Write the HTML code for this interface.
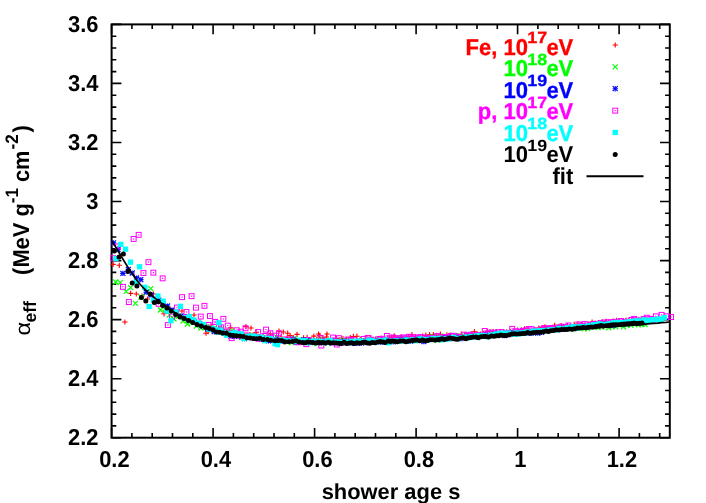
<!DOCTYPE html>
<html><head><meta charset="utf-8"><title>chart</title><style>html,body{margin:0;padding:0;background:#fff;overflow:hidden}svg{display:block;will-change:transform}</style></head><body>
<svg width="706" height="503" viewBox="0 0 706 503">
<rect width="706" height="503" fill="#fff"/>
<rect x="111.6" y="24.4" width="558.2" height="413.3" fill="none" stroke="#000" stroke-width="2"/>
<path d="M111.6 437.7v-9.8M111.6 24.4v9.8M131.9 437.7v-4.7M131.9 24.4v4.7M152.2 437.7v-4.7M152.2 24.4v4.7M172.5 437.7v-4.7M172.5 24.4v4.7M192.8 437.7v-4.7M192.8 24.4v4.7M213.1 437.7v-9.8M213.1 24.4v9.8M233.4 437.7v-4.7M233.4 24.4v4.7M253.7 437.7v-4.7M253.7 24.4v4.7M274.0 437.7v-4.7M274.0 24.4v4.7M294.3 437.7v-4.7M294.3 24.4v4.7M314.6 437.7v-9.8M314.6 24.4v9.8M334.9 437.7v-4.7M334.9 24.4v4.7M355.2 437.7v-4.7M355.2 24.4v4.7M375.5 437.7v-4.7M375.5 24.4v4.7M395.8 437.7v-4.7M395.8 24.4v4.7M416.1 437.7v-9.8M416.1 24.4v9.8M436.4 437.7v-4.7M436.4 24.4v4.7M456.7 437.7v-4.7M456.7 24.4v4.7M477.0 437.7v-4.7M477.0 24.4v4.7M497.3 437.7v-4.7M497.3 24.4v4.7M517.6 437.7v-9.8M517.6 24.4v9.8M537.9 437.7v-4.7M537.9 24.4v4.7M558.2 437.7v-4.7M558.2 24.4v4.7M578.5 437.7v-4.7M578.5 24.4v4.7M598.8 437.7v-4.7M598.8 24.4v4.7M619.1 437.7v-9.8M619.1 24.4v9.8M639.4 437.7v-4.7M639.4 24.4v4.7M659.7 437.7v-4.7M659.7 24.4v4.7M111.6 437.7h9.8M669.8 437.7h-9.8M111.6 425.9h4.7M669.8 425.9h-4.7M111.6 414.1h4.7M669.8 414.1h-4.7M111.6 402.3h4.7M669.8 402.3h-4.7M111.6 390.5h4.7M669.8 390.5h-4.7M111.6 378.7h9.8M669.8 378.7h-9.8M111.6 366.8h4.7M669.8 366.8h-4.7M111.6 355.0h4.7M669.8 355.0h-4.7M111.6 343.2h4.7M669.8 343.2h-4.7M111.6 331.4h4.7M669.8 331.4h-4.7M111.6 319.6h9.8M669.8 319.6h-9.8M111.6 307.8h4.7M669.8 307.8h-4.7M111.6 296.0h4.7M669.8 296.0h-4.7M111.6 284.2h4.7M669.8 284.2h-4.7M111.6 272.4h4.7M669.8 272.4h-4.7M111.6 260.6h9.8M669.8 260.6h-9.8M111.6 248.8h4.7M669.8 248.8h-4.7M111.6 237.0h4.7M669.8 237.0h-4.7M111.6 225.1h4.7M669.8 225.1h-4.7M111.6 213.3h4.7M669.8 213.3h-4.7M111.6 201.5h9.8M669.8 201.5h-9.8M111.6 189.7h4.7M669.8 189.7h-4.7M111.6 177.9h4.7M669.8 177.9h-4.7M111.6 166.1h4.7M669.8 166.1h-4.7M111.6 154.3h4.7M669.8 154.3h-4.7M111.6 142.5h9.8M669.8 142.5h-9.8M111.6 130.7h4.7M669.8 130.7h-4.7M111.6 118.9h4.7M669.8 118.9h-4.7M111.6 107.1h4.7M669.8 107.1h-4.7M111.6 95.3h4.7M669.8 95.3h-4.7M111.6 83.4h9.8M669.8 83.4h-9.8M111.6 71.6h4.7M669.8 71.6h-4.7M111.6 59.8h4.7M669.8 59.8h-4.7M111.6 48.0h4.7M669.8 48.0h-4.7M111.6 36.2h4.7M669.8 36.2h-4.7M111.6 24.4h9.8M669.8 24.4h-9.8" stroke="#000" stroke-width="1.6" fill="none"/>
<g><path d="M110.4 264.4H115.8M113.1 261.8V267.0" stroke="#ff0000" stroke-width="1.1" fill="none"/><path d="M116.6 265.3H122.0M119.3 262.7V267.9" stroke="#ff0000" stroke-width="1.1" fill="none"/><path d="M127.9 293.4H133.2M130.6 290.8V296.0" stroke="#ff0000" stroke-width="1.1" fill="none"/><path d="M133.7 294.0H139.0M136.3 291.4V296.6" stroke="#ff0000" stroke-width="1.1" fill="none"/><path d="M150.8 294.0H156.2M153.5 291.4V296.6" stroke="#ff0000" stroke-width="1.1" fill="none"/><path d="M122.2 322.0H127.6M124.9 319.4V324.6" stroke="#ff0000" stroke-width="1.1" fill="none"/><path d="M161.3 313.8H166.7M164.0 311.2V316.4" stroke="#ff0000" stroke-width="1.1" fill="none"/><path d="M139.3 296.0H144.7M142.0 293.4V298.6" stroke="#ff0000" stroke-width="1.1" fill="none"/><path d="M144.8 299.0H150.2M147.5 296.4V301.6" stroke="#ff0000" stroke-width="1.1" fill="none"/><path d="M156.3 300.0H161.7M159.0 297.4V302.6" stroke="#ff0000" stroke-width="1.1" fill="none"/><path d="M167.3 309.0H172.7M170.0 306.4V311.6" stroke="#ff0000" stroke-width="1.1" fill="none"/><path d="M173.3 312.0H178.7M176.0 309.4V314.6" stroke="#ff0000" stroke-width="1.1" fill="none"/><path d="M179.3 311.0H184.7M182.0 308.4V313.6" stroke="#ff0000" stroke-width="1.1" fill="none"/><path d="M185.3 317.0H190.7M188.0 314.4V319.6" stroke="#ff0000" stroke-width="1.1" fill="none"/><path d="M191.3 315.0H196.7M194.0 312.4V317.6" stroke="#ff0000" stroke-width="1.1" fill="none"/><path d="M197.3 322.0H202.7M200.0 319.4V324.6" stroke="#ff0000" stroke-width="1.1" fill="none"/><path d="M203.3 333.2H208.7M206.0 330.6V335.8" stroke="#ff0000" stroke-width="1.1" fill="none"/><path d="M243.3 326.6H248.7M246.0 324.0V329.2" stroke="#ff0000" stroke-width="1.1" fill="none"/><path d="M248.3 328.0H253.7M251.0 325.4V330.6" stroke="#ff0000" stroke-width="1.1" fill="none"/><path d="M276.4 331.2H281.6M279.0 328.6V333.8" stroke="#ff0000" stroke-width="1.1" fill="none"/><path d="M280.7 332.0H285.9M283.3 329.4V334.6" stroke="#ff0000" stroke-width="1.1" fill="none"/><path d="M285.1 333.2H290.3M287.7 330.6V335.8" stroke="#ff0000" stroke-width="1.1" fill="none"/><path d="M315.9 334.0H321.1M318.5 331.4V336.6" stroke="#ff0000" stroke-width="1.1" fill="none"/><path d="M324.4 334.0H329.6M327.0 331.4V336.6" stroke="#ff0000" stroke-width="1.1" fill="none"/><path d="M205.5 331.6H210.8M208.1 329.0V334.3" stroke="#ff0000" stroke-width="1.1" fill="none"/><path d="M208.5 326.2H213.8M211.1 323.6V328.9" stroke="#ff0000" stroke-width="1.1" fill="none"/><path d="M212.0 328.7H217.3M214.7 326.1V331.4" stroke="#ff0000" stroke-width="1.1" fill="none"/><path d="M215.0 330.6H220.3M217.7 328.0V333.3" stroke="#ff0000" stroke-width="1.1" fill="none"/><path d="M218.4 328.2H223.7M221.1 325.5V330.8" stroke="#ff0000" stroke-width="1.1" fill="none"/><path d="M221.7 331.2H227.0M224.4 328.5V333.8" stroke="#ff0000" stroke-width="1.1" fill="none"/><path d="M224.7 331.8H230.0M227.3 329.1V334.4" stroke="#ff0000" stroke-width="1.1" fill="none"/><path d="M228.1 327.9H233.4M230.7 325.2V330.5" stroke="#ff0000" stroke-width="1.1" fill="none"/><path d="M231.0 335.7H236.3M233.6 333.0V338.3" stroke="#ff0000" stroke-width="1.1" fill="none"/><path d="M234.3 335.1H239.6M237.0 332.5V337.8" stroke="#ff0000" stroke-width="1.1" fill="none"/><path d="M237.3 332.5H242.6M239.9 329.8V335.1" stroke="#ff0000" stroke-width="1.1" fill="none"/><path d="M240.3 334.1H245.6M242.9 331.4V336.7" stroke="#ff0000" stroke-width="1.1" fill="none"/><path d="M243.6 336.1H248.9M246.2 333.5V338.8" stroke="#ff0000" stroke-width="1.1" fill="none"/><path d="M247.3 334.7H252.6M250.0 332.0V337.3" stroke="#ff0000" stroke-width="1.1" fill="none"/><path d="M250.3 335.1H255.6M253.0 332.4V337.7" stroke="#ff0000" stroke-width="1.1" fill="none"/><path d="M253.5 332.6H258.8M256.1 330.0V335.3" stroke="#ff0000" stroke-width="1.1" fill="none"/><path d="M257.0 337.4H262.3M259.6 334.8V340.1" stroke="#ff0000" stroke-width="1.1" fill="none"/><path d="M260.9 336.8H266.2M263.5 334.2V339.5" stroke="#ff0000" stroke-width="1.1" fill="none"/><path d="M264.3 337.4H269.6M267.0 334.7V340.0" stroke="#ff0000" stroke-width="1.1" fill="none"/><path d="M267.6 333.9H272.9M270.3 331.2V336.5" stroke="#ff0000" stroke-width="1.1" fill="none"/><path d="M271.5 340.7H276.8M274.2 338.1V343.4" stroke="#ff0000" stroke-width="1.1" fill="none"/><path d="M274.4 337.9H279.7M277.1 335.2V340.5" stroke="#ff0000" stroke-width="1.1" fill="none"/><path d="M278.2 337.0H283.5M280.9 334.4V339.7" stroke="#ff0000" stroke-width="1.1" fill="none"/><path d="M281.4 341.9H286.7M284.0 339.2V344.5" stroke="#ff0000" stroke-width="1.1" fill="none"/><path d="M284.4 338.0H289.7M287.1 335.4V340.7" stroke="#ff0000" stroke-width="1.1" fill="none"/><path d="M287.4 335.6H292.7M290.1 332.9V338.2" stroke="#ff0000" stroke-width="1.1" fill="none"/><path d="M290.6 337.6H295.9M293.3 335.0V340.3" stroke="#ff0000" stroke-width="1.1" fill="none"/><path d="M294.4 334.4H299.7M297.0 331.8V337.1" stroke="#ff0000" stroke-width="1.1" fill="none"/><path d="M297.4 340.4H302.7M300.1 337.8V343.1" stroke="#ff0000" stroke-width="1.1" fill="none"/><path d="M300.9 337.9H306.2M303.6 335.3V340.6" stroke="#ff0000" stroke-width="1.1" fill="none"/><path d="M304.5 337.5H309.8M307.1 334.8V340.1" stroke="#ff0000" stroke-width="1.1" fill="none"/><path d="M307.7 340.5H313.0M310.4 337.8V343.1" stroke="#ff0000" stroke-width="1.1" fill="none"/><path d="M311.2 336.1H316.5M313.8 333.5V338.8" stroke="#ff0000" stroke-width="1.1" fill="none"/><path d="M314.1 339.6H319.4M316.8 336.9V342.2" stroke="#ff0000" stroke-width="1.1" fill="none"/><path d="M317.1 335.6H322.4M319.7 333.0V338.3" stroke="#ff0000" stroke-width="1.1" fill="none"/><path d="M320.2 337.8H325.5M322.8 335.1V340.4" stroke="#ff0000" stroke-width="1.1" fill="none"/><path d="M323.8 337.0H329.1M326.4 334.3V339.6" stroke="#ff0000" stroke-width="1.1" fill="none"/><path d="M327.1 340.8H332.4M329.8 338.1V343.4" stroke="#ff0000" stroke-width="1.1" fill="none"/><path d="M330.3 341.2H335.6M333.0 338.6V343.9" stroke="#ff0000" stroke-width="1.1" fill="none"/><path d="M333.8 338.4H339.1M336.5 335.7V341.0" stroke="#ff0000" stroke-width="1.1" fill="none"/><path d="M337.2 340.0H342.5M339.8 337.3V342.6" stroke="#ff0000" stroke-width="1.1" fill="none"/><path d="M340.4 338.6H345.7M343.0 335.9V341.2" stroke="#ff0000" stroke-width="1.1" fill="none"/><path d="M344.1 339.6H349.4M346.7 336.9V342.2" stroke="#ff0000" stroke-width="1.1" fill="none"/><path d="M347.7 337.8H353.0M350.3 335.1V340.4" stroke="#ff0000" stroke-width="1.1" fill="none"/><path d="M350.8 336.5H356.1M353.4 333.8V339.1" stroke="#ff0000" stroke-width="1.1" fill="none"/><path d="M354.3 336.3H359.6M356.9 333.6V338.9" stroke="#ff0000" stroke-width="1.1" fill="none"/><path d="M357.7 339.1H363.0M360.3 336.5V341.8" stroke="#ff0000" stroke-width="1.1" fill="none"/><path d="M361.5 341.5H366.8M364.1 338.8V344.1" stroke="#ff0000" stroke-width="1.1" fill="none"/><path d="M365.1 338.8H370.4M367.8 336.2V341.5" stroke="#ff0000" stroke-width="1.1" fill="none"/><path d="M368.3 337.7H373.6M370.9 335.1V340.4" stroke="#ff0000" stroke-width="1.1" fill="none"/><path d="M372.2 340.7H377.5M374.8 338.1V343.4" stroke="#ff0000" stroke-width="1.1" fill="none"/><path d="M375.2 338.5H380.5M377.8 335.9V341.2" stroke="#ff0000" stroke-width="1.1" fill="none"/><path d="M378.5 338.2H383.8M381.2 335.6V340.9" stroke="#ff0000" stroke-width="1.1" fill="none"/><path d="M382.2 338.3H387.5M384.8 335.7V341.0" stroke="#ff0000" stroke-width="1.1" fill="none"/><path d="M385.2 337.7H390.5M387.9 335.1V340.4" stroke="#ff0000" stroke-width="1.1" fill="none"/><path d="M388.6 337.4H393.9M391.3 334.7V340.0" stroke="#ff0000" stroke-width="1.1" fill="none"/><path d="M391.5 335.9H396.8M394.2 333.3V338.6" stroke="#ff0000" stroke-width="1.1" fill="none"/><path d="M395.1 338.1H400.4M397.8 335.5V340.8" stroke="#ff0000" stroke-width="1.1" fill="none"/><path d="M398.8 337.3H404.1M401.4 334.6V339.9" stroke="#ff0000" stroke-width="1.1" fill="none"/><path d="M402.3 338.7H407.6M404.9 336.0V341.3" stroke="#ff0000" stroke-width="1.1" fill="none"/><path d="M406.0 336.6H411.3M408.7 334.0V339.3" stroke="#ff0000" stroke-width="1.1" fill="none"/><path d="M409.2 334.7H414.5M411.9 332.0V337.3" stroke="#ff0000" stroke-width="1.1" fill="none"/><path d="M412.8 336.7H418.1M415.5 334.0V339.3" stroke="#ff0000" stroke-width="1.1" fill="none"/><path d="M416.3 338.6H421.6M419.0 336.0V341.3" stroke="#ff0000" stroke-width="1.1" fill="none"/><path d="M419.8 336.0H425.1M422.5 333.4V338.7" stroke="#ff0000" stroke-width="1.1" fill="none"/><path d="M423.2 335.3H428.5M425.8 332.6V337.9" stroke="#ff0000" stroke-width="1.1" fill="none"/><path d="M426.9 334.8H432.2M429.6 332.1V337.4" stroke="#ff0000" stroke-width="1.1" fill="none"/><path d="M430.8 334.8H436.1M433.4 332.1V337.4" stroke="#ff0000" stroke-width="1.1" fill="none"/><path d="M434.2 335.4H439.5M436.8 332.8V338.1" stroke="#ff0000" stroke-width="1.1" fill="none"/><path d="M437.7 334.3H443.0M440.4 331.6V336.9" stroke="#ff0000" stroke-width="1.1" fill="none"/><path d="M440.7 337.1H446.0M443.3 334.5V339.8" stroke="#ff0000" stroke-width="1.1" fill="none"/><path d="M444.3 335.0H449.6M446.9 332.3V337.6" stroke="#ff0000" stroke-width="1.1" fill="none"/><path d="M447.8 335.2H453.1M450.5 332.6V337.9" stroke="#ff0000" stroke-width="1.1" fill="none"/><path d="M451.7 336.4H457.0M454.4 333.8V339.1" stroke="#ff0000" stroke-width="1.1" fill="none"/><path d="M455.5 336.3H460.8M458.1 333.6V338.9" stroke="#ff0000" stroke-width="1.1" fill="none"/><path d="M458.6 334.3H463.9M461.3 331.6V336.9" stroke="#ff0000" stroke-width="1.1" fill="none"/><path d="M461.9 334.6H467.2M464.6 332.0V337.3" stroke="#ff0000" stroke-width="1.1" fill="none"/><path d="M465.5 334.8H470.8M468.1 332.1V337.4" stroke="#ff0000" stroke-width="1.1" fill="none"/><path d="M468.4 333.6H473.7M471.1 331.0V336.3" stroke="#ff0000" stroke-width="1.1" fill="none"/><path d="M471.8 331.8H477.1M474.4 329.1V334.4" stroke="#ff0000" stroke-width="1.1" fill="none"/><path d="M474.8 334.0H480.1M477.5 331.4V336.7" stroke="#ff0000" stroke-width="1.1" fill="none"/><path d="M477.8 334.1H483.1M480.5 331.4V336.7" stroke="#ff0000" stroke-width="1.1" fill="none"/><path d="M480.8 333.4H486.1M483.4 330.7V336.0" stroke="#ff0000" stroke-width="1.1" fill="none"/><path d="M484.5 331.8H489.8M487.1 329.1V334.4" stroke="#ff0000" stroke-width="1.1" fill="none"/><path d="M487.5 332.3H492.8M490.1 329.6V334.9" stroke="#ff0000" stroke-width="1.1" fill="none"/><path d="M490.6 331.6H495.9M493.3 329.0V334.3" stroke="#ff0000" stroke-width="1.1" fill="none"/><path d="M493.9 331.7H499.2M496.6 329.0V334.3" stroke="#ff0000" stroke-width="1.1" fill="none"/><path d="M497.7 332.9H503.0M500.3 330.3V335.6" stroke="#ff0000" stroke-width="1.1" fill="none"/><path d="M500.7 332.9H506.0M503.3 330.3V335.6" stroke="#ff0000" stroke-width="1.1" fill="none"/><path d="M504.0 331.8H509.3M506.7 329.2V334.5" stroke="#ff0000" stroke-width="1.1" fill="none"/><path d="M507.5 331.4H512.8M510.1 328.8V334.1" stroke="#ff0000" stroke-width="1.1" fill="none"/><path d="M511.3 331.2H516.6M513.9 328.6V333.9" stroke="#ff0000" stroke-width="1.1" fill="none"/><path d="M515.0 330.2H520.3M517.6 327.6V332.9" stroke="#ff0000" stroke-width="1.1" fill="none"/><path d="M518.8 329.9H524.1M521.4 327.2V332.5" stroke="#ff0000" stroke-width="1.1" fill="none"/><path d="M521.9 329.0H527.2M524.6 326.3V331.6" stroke="#ff0000" stroke-width="1.1" fill="none"/><path d="M525.2 329.3H530.5M527.9 326.6V331.9" stroke="#ff0000" stroke-width="1.1" fill="none"/><path d="M528.5 331.2H533.8M531.1 328.6V333.9" stroke="#ff0000" stroke-width="1.1" fill="none"/><path d="M532.3 329.5H537.6M534.9 326.9V332.2" stroke="#ff0000" stroke-width="1.1" fill="none"/><path d="M536.2 328.0H541.5M538.8 325.4V330.7" stroke="#ff0000" stroke-width="1.1" fill="none"/><path d="M539.2 327.6H544.5M541.9 324.9V330.2" stroke="#ff0000" stroke-width="1.1" fill="none"/><path d="M542.3 326.9H547.6M544.9 324.3V329.6" stroke="#ff0000" stroke-width="1.1" fill="none"/><path d="M545.4 327.8H550.7M548.0 325.2V330.5" stroke="#ff0000" stroke-width="1.1" fill="none"/><path d="M548.5 327.5H553.8M551.2 324.9V330.2" stroke="#ff0000" stroke-width="1.1" fill="none"/><path d="M551.9 325.4H557.2M554.6 322.8V328.1" stroke="#ff0000" stroke-width="1.1" fill="none"/><path d="M555.4 326.9H560.7M558.1 324.3V329.6" stroke="#ff0000" stroke-width="1.1" fill="none"/><path d="M558.6 325.6H563.9M561.2 323.0V328.3" stroke="#ff0000" stroke-width="1.1" fill="none"/><path d="M561.5 327.3H566.8M564.1 324.6V329.9" stroke="#ff0000" stroke-width="1.1" fill="none"/><path d="M564.8 325.7H570.1M567.4 323.1V328.4" stroke="#ff0000" stroke-width="1.1" fill="none"/><path d="M568.0 326.9H573.3M570.7 324.2V329.5" stroke="#ff0000" stroke-width="1.1" fill="none"/><path d="M571.5 324.5H576.8M574.2 321.8V327.1" stroke="#ff0000" stroke-width="1.1" fill="none"/><path d="M575.4 324.3H580.7M578.0 321.6V326.9" stroke="#ff0000" stroke-width="1.1" fill="none"/><path d="M579.0 324.5H584.3M581.6 321.8V327.1" stroke="#ff0000" stroke-width="1.1" fill="none"/><path d="M582.4 324.9H587.7M585.0 322.2V327.5" stroke="#ff0000" stroke-width="1.1" fill="none"/><path d="M585.9 324.1H591.2M588.5 321.5V326.8" stroke="#ff0000" stroke-width="1.1" fill="none"/><path d="M589.5 322.1H594.8M592.1 319.4V324.7" stroke="#ff0000" stroke-width="1.1" fill="none"/><path d="M592.4 323.1H597.7M595.1 320.5V325.8" stroke="#ff0000" stroke-width="1.1" fill="none"/><path d="M596.2 322.7H601.5M598.9 320.0V325.3" stroke="#ff0000" stroke-width="1.1" fill="none"/><path d="M599.9 321.9H605.2M602.6 319.3V324.6" stroke="#ff0000" stroke-width="1.1" fill="none"/><path d="M603.7 321.4H609.0M606.3 318.8V324.1" stroke="#ff0000" stroke-width="1.1" fill="none"/><path d="M607.4 323.3H612.7M610.1 320.7V326.0" stroke="#ff0000" stroke-width="1.1" fill="none"/><path d="M610.7 321.1H616.0M613.3 318.4V323.7" stroke="#ff0000" stroke-width="1.1" fill="none"/><path d="M614.0 320.4H619.3M616.6 317.7V323.0" stroke="#ff0000" stroke-width="1.1" fill="none"/><path d="M617.0 321.5H622.3M619.6 318.8V324.1" stroke="#ff0000" stroke-width="1.1" fill="none"/><path d="M620.5 320.7H625.8M623.2 318.1V323.4" stroke="#ff0000" stroke-width="1.1" fill="none"/><path d="M623.5 320.3H628.8M626.1 317.6V322.9" stroke="#ff0000" stroke-width="1.1" fill="none"/><path d="M626.4 320.8H631.7M629.1 318.2V323.5" stroke="#ff0000" stroke-width="1.1" fill="none"/><path d="M629.5 320.3H634.8M632.2 317.7V323.0" stroke="#ff0000" stroke-width="1.1" fill="none"/><path d="M632.6 319.9H637.9M635.2 317.3V322.6" stroke="#ff0000" stroke-width="1.1" fill="none"/><path d="M635.8 320.2H641.1M638.5 317.6V322.9" stroke="#ff0000" stroke-width="1.1" fill="none"/><path d="M638.8 319.4H644.1M641.4 316.7V322.0" stroke="#ff0000" stroke-width="1.1" fill="none"/><path d="M641.7 318.3H647.0M644.3 315.7V321.0" stroke="#ff0000" stroke-width="1.1" fill="none"/></g>
<g><path d="M113.2 279.5L118.2 284.5M113.2 284.5L118.2 279.5" stroke="#00ff00" stroke-width="1.2" fill="none"/><path d="M117.7 280.2L122.7 285.2M117.7 285.2L122.7 280.2" stroke="#00ff00" stroke-width="1.2" fill="none"/><path d="M123.6 288.8L128.6 293.8M123.6 293.8L128.6 288.8" stroke="#00ff00" stroke-width="1.2" fill="none"/><path d="M128.1 285.2L133.1 290.2M128.1 290.2L133.1 285.2" stroke="#00ff00" stroke-width="1.2" fill="none"/><path d="M132.9 300.8L137.9 305.8M132.9 305.8L137.9 300.8" stroke="#00ff00" stroke-width="1.2" fill="none"/><path d="M148.2 286.1L153.2 291.1M148.2 291.1L153.2 286.1" stroke="#00ff00" stroke-width="1.2" fill="none"/><path d="M143.7 289.7L148.7 294.7M143.7 294.7L148.7 289.7" stroke="#00ff00" stroke-width="1.2" fill="none"/><path d="M158.0 307.5L163.0 312.5M158.0 312.5L163.0 307.5" stroke="#00ff00" stroke-width="1.2" fill="none"/><path d="M138.5 294.5L143.5 299.5M138.5 299.5L143.5 294.5" stroke="#00ff00" stroke-width="1.2" fill="none"/><path d="M153.0 298.5L158.0 303.5M153.0 303.5L158.0 298.5" stroke="#00ff00" stroke-width="1.2" fill="none"/><path d="M162.5 306.5L167.5 311.5M162.5 311.5L167.5 306.5" stroke="#00ff00" stroke-width="1.2" fill="none"/><path d="M167.0 312.5L172.0 317.5M167.0 317.5L172.0 312.5" stroke="#00ff00" stroke-width="1.2" fill="none"/><path d="M171.5 316.5L176.5 321.5M171.5 321.5L176.5 316.5" stroke="#00ff00" stroke-width="1.2" fill="none"/><path d="M176.0 313.5L181.0 318.5M176.0 318.5L181.0 313.5" stroke="#00ff00" stroke-width="1.2" fill="none"/><path d="M180.5 318.5L185.5 323.5M180.5 323.5L185.5 318.5" stroke="#00ff00" stroke-width="1.2" fill="none"/><path d="M185.0 321.5L190.0 326.5M185.0 326.5L190.0 321.5" stroke="#00ff00" stroke-width="1.2" fill="none"/><path d="M189.5 319.5L194.5 324.5M189.5 324.5L194.5 319.5" stroke="#00ff00" stroke-width="1.2" fill="none"/><path d="M194.0 323.5L199.0 328.5M194.0 328.5L199.0 323.5" stroke="#00ff00" stroke-width="1.2" fill="none"/><path d="M198.5 325.5L203.5 330.5M198.5 330.5L203.5 325.5" stroke="#00ff00" stroke-width="1.2" fill="none"/><path d="M203.0 324.5L208.0 329.5M203.0 329.5L208.0 324.5" stroke="#00ff00" stroke-width="1.2" fill="none"/><path d="M204.9 324.6L209.9 329.6M204.9 329.6L209.9 324.6" stroke="#00ff00" stroke-width="1.2" fill="none"/><path d="M208.3 325.5L213.3 330.5M208.3 330.5L213.3 325.5" stroke="#00ff00" stroke-width="1.2" fill="none"/><path d="M211.4 327.9L216.4 332.9M211.4 332.9L216.4 327.9" stroke="#00ff00" stroke-width="1.2" fill="none"/><path d="M215.4 326.6L220.4 331.6M215.4 331.6L220.4 326.6" stroke="#00ff00" stroke-width="1.2" fill="none"/><path d="M219.1 326.2L224.1 331.2M219.1 331.2L224.1 326.2" stroke="#00ff00" stroke-width="1.2" fill="none"/><path d="M222.4 330.6L227.4 335.6M222.4 335.6L227.4 330.6" stroke="#00ff00" stroke-width="1.2" fill="none"/><path d="M225.7 328.7L230.7 333.7M225.7 333.7L230.7 328.7" stroke="#00ff00" stroke-width="1.2" fill="none"/><path d="M229.1 328.4L234.1 333.4M229.1 333.4L234.1 328.4" stroke="#00ff00" stroke-width="1.2" fill="none"/><path d="M232.6 333.2L237.6 338.2M232.6 338.2L237.6 333.2" stroke="#00ff00" stroke-width="1.2" fill="none"/><path d="M235.8 331.8L240.8 336.8M235.8 336.8L240.8 331.8" stroke="#00ff00" stroke-width="1.2" fill="none"/><path d="M239.7 334.5L244.7 339.5M239.7 339.5L244.7 334.5" stroke="#00ff00" stroke-width="1.2" fill="none"/><path d="M243.9 333.4L248.9 338.4M243.9 338.4L248.9 333.4" stroke="#00ff00" stroke-width="1.2" fill="none"/><path d="M247.4 332.8L252.4 337.8M247.4 337.8L252.4 332.8" stroke="#00ff00" stroke-width="1.2" fill="none"/><path d="M251.0 333.1L256.0 338.1M251.0 338.1L256.0 333.1" stroke="#00ff00" stroke-width="1.2" fill="none"/><path d="M254.2 334.6L259.2 339.6M254.2 339.6L259.2 334.6" stroke="#00ff00" stroke-width="1.2" fill="none"/><path d="M257.3 335.3L262.3 340.3M257.3 340.3L262.3 335.3" stroke="#00ff00" stroke-width="1.2" fill="none"/><path d="M260.8 334.8L265.8 339.8M260.8 339.8L265.8 334.8" stroke="#00ff00" stroke-width="1.2" fill="none"/><path d="M264.1 335.9L269.1 340.9M264.1 340.9L269.1 335.9" stroke="#00ff00" stroke-width="1.2" fill="none"/><path d="M268.1 334.4L273.1 339.4M268.1 339.4L273.1 334.4" stroke="#00ff00" stroke-width="1.2" fill="none"/><path d="M271.3 336.9L276.3 341.9M271.3 341.9L276.3 336.9" stroke="#00ff00" stroke-width="1.2" fill="none"/><path d="M274.4 334.6L279.4 339.6M274.4 339.6L279.4 334.6" stroke="#00ff00" stroke-width="1.2" fill="none"/><path d="M278.5 337.2L283.5 342.2M278.5 342.2L283.5 337.2" stroke="#00ff00" stroke-width="1.2" fill="none"/><path d="M282.1 338.6L287.1 343.6M282.1 343.6L287.1 338.6" stroke="#00ff00" stroke-width="1.2" fill="none"/><path d="M285.3 339.3L290.3 344.3M285.3 344.3L290.3 339.3" stroke="#00ff00" stroke-width="1.2" fill="none"/><path d="M289.0 340.2L294.0 345.2M289.0 345.2L294.0 340.2" stroke="#00ff00" stroke-width="1.2" fill="none"/><path d="M292.1 336.2L297.1 341.2M292.1 341.2L297.1 336.2" stroke="#00ff00" stroke-width="1.2" fill="none"/><path d="M295.7 339.3L300.7 344.3M295.7 344.3L300.7 339.3" stroke="#00ff00" stroke-width="1.2" fill="none"/><path d="M299.8 339.9L304.8 344.9M299.8 344.9L304.8 339.9" stroke="#00ff00" stroke-width="1.2" fill="none"/><path d="M303.8 339.8L308.8 344.8M303.8 344.8L308.8 339.8" stroke="#00ff00" stroke-width="1.2" fill="none"/><path d="M307.6 337.6L312.6 342.6M307.6 342.6L312.6 337.6" stroke="#00ff00" stroke-width="1.2" fill="none"/><path d="M311.0 339.2L316.0 344.2M311.0 344.2L316.0 339.2" stroke="#00ff00" stroke-width="1.2" fill="none"/><path d="M314.4 341.0L319.4 346.0M314.4 346.0L319.4 341.0" stroke="#00ff00" stroke-width="1.2" fill="none"/><path d="M317.7 337.1L322.7 342.1M317.7 342.1L322.7 337.1" stroke="#00ff00" stroke-width="1.2" fill="none"/><path d="M321.6 339.5L326.6 344.5M321.6 344.5L326.6 339.5" stroke="#00ff00" stroke-width="1.2" fill="none"/><path d="M325.2 340.3L330.2 345.3M325.2 345.3L330.2 340.3" stroke="#00ff00" stroke-width="1.2" fill="none"/><path d="M329.1 338.2L334.1 343.2M329.1 343.2L334.1 338.2" stroke="#00ff00" stroke-width="1.2" fill="none"/><path d="M332.5 339.7L337.5 344.7M332.5 344.7L337.5 339.7" stroke="#00ff00" stroke-width="1.2" fill="none"/><path d="M335.8 337.8L340.8 342.8M335.8 342.8L340.8 337.8" stroke="#00ff00" stroke-width="1.2" fill="none"/><path d="M339.7 338.1L344.7 343.1M339.7 343.1L344.7 338.1" stroke="#00ff00" stroke-width="1.2" fill="none"/><path d="M343.9 338.0L348.9 343.0M343.9 343.0L348.9 338.0" stroke="#00ff00" stroke-width="1.2" fill="none"/><path d="M347.8 339.1L352.8 344.1M347.8 344.1L352.8 339.1" stroke="#00ff00" stroke-width="1.2" fill="none"/><path d="M351.8 338.7L356.8 343.7M351.8 343.7L356.8 338.7" stroke="#00ff00" stroke-width="1.2" fill="none"/><path d="M355.7 339.8L360.7 344.8M355.7 344.8L360.7 339.8" stroke="#00ff00" stroke-width="1.2" fill="none"/><path d="M359.6 337.6L364.6 342.6M359.6 342.6L364.6 337.6" stroke="#00ff00" stroke-width="1.2" fill="none"/><path d="M362.9 338.4L367.9 343.4M362.9 343.4L367.9 338.4" stroke="#00ff00" stroke-width="1.2" fill="none"/><path d="M366.5 339.6L371.5 344.6M366.5 344.6L371.5 339.6" stroke="#00ff00" stroke-width="1.2" fill="none"/><path d="M369.9 339.0L374.9 344.0M369.9 344.0L374.9 339.0" stroke="#00ff00" stroke-width="1.2" fill="none"/><path d="M373.0 336.8L378.0 341.8M373.0 341.8L378.0 336.8" stroke="#00ff00" stroke-width="1.2" fill="none"/><path d="M376.1 339.0L381.1 344.0M376.1 344.0L381.1 339.0" stroke="#00ff00" stroke-width="1.2" fill="none"/><path d="M379.5 337.6L384.5 342.6M379.5 342.6L384.5 337.6" stroke="#00ff00" stroke-width="1.2" fill="none"/><path d="M382.8 338.4L387.8 343.4M382.8 343.4L387.8 338.4" stroke="#00ff00" stroke-width="1.2" fill="none"/><path d="M386.6 338.2L391.6 343.2M386.6 343.2L391.6 338.2" stroke="#00ff00" stroke-width="1.2" fill="none"/><path d="M390.7 339.1L395.7 344.1M390.7 344.1L395.7 339.1" stroke="#00ff00" stroke-width="1.2" fill="none"/><path d="M394.3 337.7L399.3 342.7M394.3 342.7L399.3 337.7" stroke="#00ff00" stroke-width="1.2" fill="none"/><path d="M398.3 335.4L403.3 340.4M398.3 340.4L403.3 335.4" stroke="#00ff00" stroke-width="1.2" fill="none"/><path d="M402.5 335.8L407.5 340.8M402.5 340.8L407.5 335.8" stroke="#00ff00" stroke-width="1.2" fill="none"/><path d="M406.6 337.9L411.6 342.9M406.6 342.9L411.6 337.9" stroke="#00ff00" stroke-width="1.2" fill="none"/><path d="M410.0 336.6L415.0 341.6M410.0 341.6L415.0 336.6" stroke="#00ff00" stroke-width="1.2" fill="none"/><path d="M413.3 338.0L418.3 343.0M413.3 343.0L418.3 338.0" stroke="#00ff00" stroke-width="1.2" fill="none"/><path d="M416.6 336.9L421.6 341.9M416.6 341.9L421.6 336.9" stroke="#00ff00" stroke-width="1.2" fill="none"/><path d="M419.9 335.7L424.9 340.7M419.9 340.7L424.9 335.7" stroke="#00ff00" stroke-width="1.2" fill="none"/><path d="M423.2 337.4L428.2 342.4M423.2 342.4L428.2 337.4" stroke="#00ff00" stroke-width="1.2" fill="none"/><path d="M426.9 335.3L431.9 340.3M426.9 340.3L431.9 335.3" stroke="#00ff00" stroke-width="1.2" fill="none"/><path d="M430.9 333.8L435.9 338.8M430.9 338.8L435.9 333.8" stroke="#00ff00" stroke-width="1.2" fill="none"/><path d="M434.9 337.9L439.9 342.9M434.9 342.9L439.9 337.9" stroke="#00ff00" stroke-width="1.2" fill="none"/><path d="M438.5 333.6L443.5 338.6M438.5 338.6L443.5 333.6" stroke="#00ff00" stroke-width="1.2" fill="none"/><path d="M442.3 336.0L447.3 341.0M442.3 341.0L447.3 336.0" stroke="#00ff00" stroke-width="1.2" fill="none"/><path d="M446.2 336.1L451.2 341.1M446.2 341.1L451.2 336.1" stroke="#00ff00" stroke-width="1.2" fill="none"/><path d="M449.3 335.1L454.3 340.1M449.3 340.1L454.3 335.1" stroke="#00ff00" stroke-width="1.2" fill="none"/><path d="M453.1 333.1L458.1 338.1M453.1 338.1L458.1 333.1" stroke="#00ff00" stroke-width="1.2" fill="none"/><path d="M457.1 335.6L462.1 340.6M457.1 340.6L462.1 335.6" stroke="#00ff00" stroke-width="1.2" fill="none"/><path d="M461.0 332.8L466.0 337.8M461.0 337.8L466.0 332.8" stroke="#00ff00" stroke-width="1.2" fill="none"/><path d="M464.9 332.7L469.9 337.7M464.9 337.7L469.9 332.7" stroke="#00ff00" stroke-width="1.2" fill="none"/><path d="M468.5 333.4L473.5 338.4M468.5 338.4L473.5 333.4" stroke="#00ff00" stroke-width="1.2" fill="none"/><path d="M471.7 334.3L476.7 339.3M471.7 339.3L476.7 334.3" stroke="#00ff00" stroke-width="1.2" fill="none"/><path d="M475.7 333.6L480.7 338.6M475.7 338.6L480.7 333.6" stroke="#00ff00" stroke-width="1.2" fill="none"/><path d="M479.1 333.8L484.1 338.8M479.1 338.8L484.1 333.8" stroke="#00ff00" stroke-width="1.2" fill="none"/><path d="M483.0 332.3L488.0 337.3M483.0 337.3L488.0 332.3" stroke="#00ff00" stroke-width="1.2" fill="none"/><path d="M487.1 332.2L492.1 337.2M487.1 337.2L492.1 332.2" stroke="#00ff00" stroke-width="1.2" fill="none"/><path d="M490.6 331.0L495.6 336.0M490.6 336.0L495.6 331.0" stroke="#00ff00" stroke-width="1.2" fill="none"/><path d="M494.1 331.6L499.1 336.6M494.1 336.6L499.1 331.6" stroke="#00ff00" stroke-width="1.2" fill="none"/><path d="M498.2 332.1L503.2 337.1M498.2 337.1L503.2 332.1" stroke="#00ff00" stroke-width="1.2" fill="none"/><path d="M502.0 331.0L507.0 336.0M502.0 336.0L507.0 331.0" stroke="#00ff00" stroke-width="1.2" fill="none"/><path d="M505.3 331.4L510.3 336.4M505.3 336.4L510.3 331.4" stroke="#00ff00" stroke-width="1.2" fill="none"/><path d="M508.5 330.2L513.5 335.2M508.5 335.2L513.5 330.2" stroke="#00ff00" stroke-width="1.2" fill="none"/><path d="M511.7 329.9L516.7 334.9M511.7 334.9L516.7 329.9" stroke="#00ff00" stroke-width="1.2" fill="none"/><path d="M515.7 330.2L520.7 335.2M515.7 335.2L520.7 330.2" stroke="#00ff00" stroke-width="1.2" fill="none"/><path d="M519.7 329.6L524.7 334.6M519.7 334.6L524.7 329.6" stroke="#00ff00" stroke-width="1.2" fill="none"/><path d="M522.9 330.0L527.9 335.0M522.9 335.0L527.9 330.0" stroke="#00ff00" stroke-width="1.2" fill="none"/><path d="M526.8 329.3L531.8 334.3M526.8 334.3L531.8 329.3" stroke="#00ff00" stroke-width="1.2" fill="none"/><path d="M530.9 330.4L535.9 335.4M530.9 335.4L535.9 330.4" stroke="#00ff00" stroke-width="1.2" fill="none"/><path d="M534.7 328.2L539.7 333.2M534.7 333.2L539.7 328.2" stroke="#00ff00" stroke-width="1.2" fill="none"/><path d="M538.1 327.9L543.1 332.9M538.1 332.9L543.1 327.9" stroke="#00ff00" stroke-width="1.2" fill="none"/><path d="M541.8 326.8L546.8 331.8M541.8 331.8L546.8 326.8" stroke="#00ff00" stroke-width="1.2" fill="none"/><path d="M545.0 327.4L550.0 332.4M545.0 332.4L550.0 327.4" stroke="#00ff00" stroke-width="1.2" fill="none"/><path d="M548.1 327.7L553.1 332.7M548.1 332.7L553.1 327.7" stroke="#00ff00" stroke-width="1.2" fill="none"/><path d="M552.2 326.0L557.2 331.0M552.2 331.0L557.2 326.0" stroke="#00ff00" stroke-width="1.2" fill="none"/><path d="M555.9 326.3L560.9 331.3M555.9 331.3L560.9 326.3" stroke="#00ff00" stroke-width="1.2" fill="none"/><path d="M559.6 326.8L564.6 331.8M559.6 331.8L564.6 326.8" stroke="#00ff00" stroke-width="1.2" fill="none"/><path d="M563.6 325.8L568.6 330.8M563.6 330.8L568.6 325.8" stroke="#00ff00" stroke-width="1.2" fill="none"/><path d="M567.2 325.3L572.2 330.3M567.2 330.3L572.2 325.3" stroke="#00ff00" stroke-width="1.2" fill="none"/><path d="M571.2 326.5L576.2 331.5M571.2 331.5L576.2 326.5" stroke="#00ff00" stroke-width="1.2" fill="none"/><path d="M575.1 325.6L580.1 330.6M575.1 330.6L580.1 325.6" stroke="#00ff00" stroke-width="1.2" fill="none"/><path d="M578.4 325.7L583.4 330.7M578.4 330.7L583.4 325.7" stroke="#00ff00" stroke-width="1.2" fill="none"/><path d="M581.7 326.3L586.7 331.3M581.7 331.3L586.7 326.3" stroke="#00ff00" stroke-width="1.2" fill="none"/><path d="M585.1 326.1L590.1 331.1M585.1 331.1L590.1 326.1" stroke="#00ff00" stroke-width="1.2" fill="none"/><path d="M588.4 324.7L593.4 329.7M588.4 329.7L593.4 324.7" stroke="#00ff00" stroke-width="1.2" fill="none"/><path d="M592.1 324.4L597.1 329.4M592.1 329.4L597.1 324.4" stroke="#00ff00" stroke-width="1.2" fill="none"/><path d="M595.5 325.0L600.5 330.0M595.5 330.0L600.5 325.0" stroke="#00ff00" stroke-width="1.2" fill="none"/><path d="M599.0 324.5L604.0 329.5M599.0 329.5L604.0 324.5" stroke="#00ff00" stroke-width="1.2" fill="none"/><path d="M602.2 322.8L607.2 327.8M602.2 327.8L607.2 322.8" stroke="#00ff00" stroke-width="1.2" fill="none"/><path d="M606.2 325.3L611.2 330.3M606.2 330.3L611.2 325.3" stroke="#00ff00" stroke-width="1.2" fill="none"/><path d="M609.7 324.0L614.7 329.0M609.7 329.0L614.7 324.0" stroke="#00ff00" stroke-width="1.2" fill="none"/><path d="M613.2 324.4L618.2 329.4M613.2 329.4L618.2 324.4" stroke="#00ff00" stroke-width="1.2" fill="none"/><path d="M616.9 322.6L621.9 327.6M616.9 327.6L621.9 322.6" stroke="#00ff00" stroke-width="1.2" fill="none"/><path d="M621.0 324.4L626.0 329.4M621.0 329.4L626.0 324.4" stroke="#00ff00" stroke-width="1.2" fill="none"/><path d="M624.5 322.7L629.5 327.7M624.5 327.7L629.5 322.7" stroke="#00ff00" stroke-width="1.2" fill="none"/><path d="M628.5 322.8L633.5 327.8M628.5 327.8L633.5 322.8" stroke="#00ff00" stroke-width="1.2" fill="none"/><path d="M632.1 321.6L637.1 326.6M632.1 326.6L637.1 321.6" stroke="#00ff00" stroke-width="1.2" fill="none"/><path d="M635.8 322.4L640.8 327.4M635.8 327.4L640.8 322.4" stroke="#00ff00" stroke-width="1.2" fill="none"/><path d="M639.4 322.1L644.4 327.1M639.4 327.1L644.4 322.1" stroke="#00ff00" stroke-width="1.2" fill="none"/><path d="M642.5 322.0L647.5 327.0M642.5 327.0L647.5 322.0" stroke="#00ff00" stroke-width="1.2" fill="none"/></g>
<g><path d="M110.9 242.9H116.2M113.6 240.2V245.6" stroke="#0000ff" stroke-width="1.1" fill="none"/><path d="M111.1 240.4L116.1 245.4M111.1 245.4L116.1 240.4" stroke="#0000ff" stroke-width="1.2" fill="none"/><path d="M115.3 249.5H120.7M118.0 246.8V252.2" stroke="#0000ff" stroke-width="1.1" fill="none"/><path d="M115.5 247.0L120.5 252.0M115.5 252.0L120.5 247.0" stroke="#0000ff" stroke-width="1.2" fill="none"/><path d="M120.2 273.4H125.6M122.9 270.8V276.0" stroke="#0000ff" stroke-width="1.1" fill="none"/><path d="M120.4 270.9L125.4 275.9M120.4 275.9L125.4 270.9" stroke="#0000ff" stroke-width="1.2" fill="none"/><path d="M125.7 269.4H131.0M128.3 266.8V272.0" stroke="#0000ff" stroke-width="1.1" fill="none"/><path d="M125.8 266.9L130.8 271.9M125.8 271.9L130.8 266.9" stroke="#0000ff" stroke-width="1.2" fill="none"/><path d="M129.5 273.0H134.8M132.2 270.4V275.6" stroke="#0000ff" stroke-width="1.1" fill="none"/><path d="M129.7 270.5L134.7 275.5M129.7 275.5L134.7 270.5" stroke="#0000ff" stroke-width="1.2" fill="none"/><path d="M138.2 279.6H143.5M140.8 277.0V282.2" stroke="#0000ff" stroke-width="1.1" fill="none"/><path d="M138.3 277.1L143.3 282.1M138.3 282.1L143.3 277.1" stroke="#0000ff" stroke-width="1.2" fill="none"/><path d="M143.5 292.2H148.8M146.2 289.6V294.8" stroke="#0000ff" stroke-width="1.1" fill="none"/><path d="M143.7 289.7L148.7 294.7M143.7 294.7L148.7 289.7" stroke="#0000ff" stroke-width="1.2" fill="none"/><path d="M156.0 300.2H161.3M158.7 297.6V302.8" stroke="#0000ff" stroke-width="1.1" fill="none"/><path d="M156.2 297.7L161.2 302.7M156.2 302.7L161.2 297.7" stroke="#0000ff" stroke-width="1.2" fill="none"/><path d="M133.8 278.0H139.2M136.5 275.4V280.6" stroke="#0000ff" stroke-width="1.1" fill="none"/><path d="M134.0 275.5L139.0 280.5M134.0 280.5L139.0 275.5" stroke="#0000ff" stroke-width="1.2" fill="none"/><path d="M148.3 295.0H153.7M151.0 292.4V297.6" stroke="#0000ff" stroke-width="1.1" fill="none"/><path d="M148.5 292.5L153.5 297.5M148.5 297.5L153.5 292.5" stroke="#0000ff" stroke-width="1.2" fill="none"/><path d="M152.3 299.0H157.7M155.0 296.4V301.6" stroke="#0000ff" stroke-width="1.1" fill="none"/><path d="M152.5 296.5L157.5 301.5M152.5 301.5L157.5 296.5" stroke="#0000ff" stroke-width="1.2" fill="none"/><path d="M160.3 303.0H165.7M163.0 300.4V305.6" stroke="#0000ff" stroke-width="1.1" fill="none"/><path d="M160.5 300.5L165.5 305.5M160.5 305.5L165.5 300.5" stroke="#0000ff" stroke-width="1.2" fill="none"/><path d="M164.8 306.0H170.2M167.5 303.4V308.6" stroke="#0000ff" stroke-width="1.1" fill="none"/><path d="M165.0 303.5L170.0 308.5M165.0 308.5L170.0 303.5" stroke="#0000ff" stroke-width="1.2" fill="none"/><path d="M169.3 310.0H174.7M172.0 307.4V312.6" stroke="#0000ff" stroke-width="1.1" fill="none"/><path d="M169.5 307.5L174.5 312.5M169.5 312.5L174.5 307.5" stroke="#0000ff" stroke-width="1.2" fill="none"/><path d="M173.8 313.0H179.2M176.5 310.4V315.6" stroke="#0000ff" stroke-width="1.1" fill="none"/><path d="M174.0 310.5L179.0 315.5M174.0 315.5L179.0 310.5" stroke="#0000ff" stroke-width="1.2" fill="none"/><path d="M178.3 316.0H183.7M181.0 313.4V318.6" stroke="#0000ff" stroke-width="1.1" fill="none"/><path d="M178.5 313.5L183.5 318.5M178.5 318.5L183.5 313.5" stroke="#0000ff" stroke-width="1.2" fill="none"/><path d="M182.8 318.0H188.2M185.5 315.4V320.6" stroke="#0000ff" stroke-width="1.1" fill="none"/><path d="M183.0 315.5L188.0 320.5M183.0 320.5L188.0 315.5" stroke="#0000ff" stroke-width="1.2" fill="none"/><path d="M187.3 320.0H192.7M190.0 317.4V322.6" stroke="#0000ff" stroke-width="1.1" fill="none"/><path d="M187.5 317.5L192.5 322.5M187.5 322.5L192.5 317.5" stroke="#0000ff" stroke-width="1.2" fill="none"/><path d="M191.8 322.0H197.2M194.5 319.4V324.6" stroke="#0000ff" stroke-width="1.1" fill="none"/><path d="M192.0 319.5L197.0 324.5M192.0 324.5L197.0 319.5" stroke="#0000ff" stroke-width="1.2" fill="none"/><path d="M196.3 324.0H201.7M199.0 321.4V326.6" stroke="#0000ff" stroke-width="1.1" fill="none"/><path d="M196.5 321.5L201.5 326.5M196.5 326.5L201.5 321.5" stroke="#0000ff" stroke-width="1.2" fill="none"/><path d="M200.8 326.0H206.2M203.5 323.4V328.6" stroke="#0000ff" stroke-width="1.1" fill="none"/><path d="M201.0 323.5L206.0 328.5M201.0 328.5L206.0 323.5" stroke="#0000ff" stroke-width="1.2" fill="none"/><path d="M205.0 328.8H210.3M207.6 326.2V331.5" stroke="#0000ff" stroke-width="1.1" fill="none"/><path d="M205.1 326.3L210.1 331.3M205.1 331.3L210.1 326.3" stroke="#0000ff" stroke-width="1.2" fill="none"/><path d="M207.9 329.2H213.2M210.5 326.6V331.9" stroke="#0000ff" stroke-width="1.1" fill="none"/><path d="M208.0 326.7L213.0 331.7M208.0 331.7L213.0 326.7" stroke="#0000ff" stroke-width="1.2" fill="none"/><path d="M211.6 331.7H216.9M214.2 329.1V334.4" stroke="#0000ff" stroke-width="1.1" fill="none"/><path d="M211.7 329.2L216.7 334.2M211.7 334.2L216.7 329.2" stroke="#0000ff" stroke-width="1.2" fill="none"/><path d="M214.6 330.5H219.9M217.3 327.9V333.2" stroke="#0000ff" stroke-width="1.1" fill="none"/><path d="M214.8 328.0L219.8 333.0M214.8 333.0L219.8 328.0" stroke="#0000ff" stroke-width="1.2" fill="none"/><path d="M218.0 330.7H223.3M220.7 328.1V333.4" stroke="#0000ff" stroke-width="1.1" fill="none"/><path d="M218.2 328.2L223.2 333.2M218.2 333.2L223.2 328.2" stroke="#0000ff" stroke-width="1.2" fill="none"/><path d="M221.6 333.0H226.9M224.3 330.4V335.7" stroke="#0000ff" stroke-width="1.1" fill="none"/><path d="M221.8 330.5L226.8 335.5M221.8 335.5L226.8 330.5" stroke="#0000ff" stroke-width="1.2" fill="none"/><path d="M225.1 334.7H230.4M227.7 332.0V337.3" stroke="#0000ff" stroke-width="1.1" fill="none"/><path d="M225.2 332.2L230.2 337.2M225.2 337.2L230.2 332.2" stroke="#0000ff" stroke-width="1.2" fill="none"/><path d="M228.3 336.2H233.6M231.0 333.5V338.8" stroke="#0000ff" stroke-width="1.1" fill="none"/><path d="M228.5 333.7L233.5 338.7M228.5 338.7L233.5 333.7" stroke="#0000ff" stroke-width="1.2" fill="none"/><path d="M231.7 336.3H237.0M234.4 333.6V338.9" stroke="#0000ff" stroke-width="1.1" fill="none"/><path d="M231.9 333.8L236.9 338.8M231.9 338.8L236.9 333.8" stroke="#0000ff" stroke-width="1.2" fill="none"/><path d="M235.2 333.6H240.5M237.8 330.9V336.2" stroke="#0000ff" stroke-width="1.1" fill="none"/><path d="M235.3 331.1L240.3 336.1M235.3 336.1L240.3 331.1" stroke="#0000ff" stroke-width="1.2" fill="none"/><path d="M238.9 336.9H244.2M241.5 334.2V339.5" stroke="#0000ff" stroke-width="1.1" fill="none"/><path d="M239.0 334.4L244.0 339.4M239.0 339.4L244.0 334.4" stroke="#0000ff" stroke-width="1.2" fill="none"/><path d="M241.9 338.6H247.2M244.5 336.0V341.3" stroke="#0000ff" stroke-width="1.1" fill="none"/><path d="M242.0 336.1L247.0 341.1M242.0 341.1L247.0 336.1" stroke="#0000ff" stroke-width="1.2" fill="none"/><path d="M245.3 337.4H250.6M248.0 334.7V340.0" stroke="#0000ff" stroke-width="1.1" fill="none"/><path d="M245.5 334.9L250.5 339.9M245.5 339.9L250.5 334.9" stroke="#0000ff" stroke-width="1.2" fill="none"/><path d="M248.5 337.1H253.8M251.1 334.4V339.7" stroke="#0000ff" stroke-width="1.1" fill="none"/><path d="M248.6 334.6L253.6 339.6M248.6 339.6L253.6 334.6" stroke="#0000ff" stroke-width="1.2" fill="none"/><path d="M251.7 338.4H257.0M254.3 335.7V341.0" stroke="#0000ff" stroke-width="1.1" fill="none"/><path d="M251.8 335.9L256.8 340.9M251.8 340.9L256.8 335.9" stroke="#0000ff" stroke-width="1.2" fill="none"/><path d="M255.3 337.8H260.6M258.0 335.2V340.5" stroke="#0000ff" stroke-width="1.1" fill="none"/><path d="M255.5 335.3L260.5 340.3M255.5 340.3L260.5 335.3" stroke="#0000ff" stroke-width="1.2" fill="none"/><path d="M258.7 339.4H264.0M261.4 336.8V342.1" stroke="#0000ff" stroke-width="1.1" fill="none"/><path d="M258.9 336.9L263.9 341.9M258.9 341.9L263.9 336.9" stroke="#0000ff" stroke-width="1.2" fill="none"/><path d="M262.2 339.1H267.5M264.9 336.4V341.7" stroke="#0000ff" stroke-width="1.1" fill="none"/><path d="M262.4 336.6L267.4 341.6M262.4 341.6L267.4 336.6" stroke="#0000ff" stroke-width="1.2" fill="none"/><path d="M265.9 340.8H271.2M268.5 338.2V343.5" stroke="#0000ff" stroke-width="1.1" fill="none"/><path d="M266.0 338.3L271.0 343.3M266.0 343.3L271.0 338.3" stroke="#0000ff" stroke-width="1.2" fill="none"/><path d="M269.7 340.2H275.0M272.3 337.6V342.9" stroke="#0000ff" stroke-width="1.1" fill="none"/><path d="M269.8 337.7L274.8 342.7M269.8 342.7L274.8 337.7" stroke="#0000ff" stroke-width="1.2" fill="none"/><path d="M273.0 339.3H278.3M275.7 336.6V341.9" stroke="#0000ff" stroke-width="1.1" fill="none"/><path d="M273.2 336.8L278.2 341.8M273.2 341.8L278.2 336.8" stroke="#0000ff" stroke-width="1.2" fill="none"/><path d="M276.6 340.8H281.9M279.2 338.2V343.5" stroke="#0000ff" stroke-width="1.1" fill="none"/><path d="M276.7 338.3L281.7 343.3M276.7 343.3L281.7 338.3" stroke="#0000ff" stroke-width="1.2" fill="none"/><path d="M280.0 341.4H285.3M282.6 338.7V344.0" stroke="#0000ff" stroke-width="1.1" fill="none"/><path d="M280.1 338.9L285.1 343.9M280.1 343.9L285.1 338.9" stroke="#0000ff" stroke-width="1.2" fill="none"/><path d="M283.4 340.2H288.7M286.0 337.6V342.9" stroke="#0000ff" stroke-width="1.1" fill="none"/><path d="M283.5 337.7L288.5 342.7M283.5 342.7L288.5 337.7" stroke="#0000ff" stroke-width="1.2" fill="none"/><path d="M287.0 340.6H292.3M289.6 337.9V343.2" stroke="#0000ff" stroke-width="1.1" fill="none"/><path d="M287.1 338.1L292.1 343.1M287.1 343.1L292.1 338.1" stroke="#0000ff" stroke-width="1.2" fill="none"/><path d="M290.3 339.2H295.6M293.0 336.5V341.8" stroke="#0000ff" stroke-width="1.1" fill="none"/><path d="M290.5 336.7L295.5 341.7M290.5 341.7L295.5 336.7" stroke="#0000ff" stroke-width="1.2" fill="none"/><path d="M293.8 342.0H299.1M296.4 339.4V344.7" stroke="#0000ff" stroke-width="1.1" fill="none"/><path d="M293.9 339.5L298.9 344.5M293.9 344.5L298.9 339.5" stroke="#0000ff" stroke-width="1.2" fill="none"/><path d="M297.1 341.0H302.4M299.8 338.3V343.6" stroke="#0000ff" stroke-width="1.1" fill="none"/><path d="M297.3 338.5L302.3 343.5M297.3 343.5L302.3 338.5" stroke="#0000ff" stroke-width="1.2" fill="none"/><path d="M301.0 339.9H306.3M303.6 337.2V342.5" stroke="#0000ff" stroke-width="1.1" fill="none"/><path d="M301.1 337.4L306.1 342.4M301.1 342.4L306.1 337.4" stroke="#0000ff" stroke-width="1.2" fill="none"/><path d="M304.6 340.3H309.9M307.2 337.6V342.9" stroke="#0000ff" stroke-width="1.1" fill="none"/><path d="M304.7 337.8L309.7 342.8M304.7 342.8L309.7 337.8" stroke="#0000ff" stroke-width="1.2" fill="none"/><path d="M308.4 341.6H313.7M311.0 339.0V344.3" stroke="#0000ff" stroke-width="1.1" fill="none"/><path d="M308.5 339.1L313.5 344.1M308.5 344.1L313.5 339.1" stroke="#0000ff" stroke-width="1.2" fill="none"/><path d="M312.2 342.5H317.5M314.9 339.8V345.1" stroke="#0000ff" stroke-width="1.1" fill="none"/><path d="M312.4 340.0L317.4 345.0M312.4 345.0L317.4 340.0" stroke="#0000ff" stroke-width="1.2" fill="none"/><path d="M315.4 341.9H320.7M318.0 339.2V344.5" stroke="#0000ff" stroke-width="1.1" fill="none"/><path d="M315.5 339.4L320.5 344.4M315.5 344.4L320.5 339.4" stroke="#0000ff" stroke-width="1.2" fill="none"/><path d="M318.8 342.4H324.1M321.5 339.7V345.0" stroke="#0000ff" stroke-width="1.1" fill="none"/><path d="M319.0 339.9L324.0 344.9M319.0 344.9L324.0 339.9" stroke="#0000ff" stroke-width="1.2" fill="none"/><path d="M322.7 341.2H328.0M325.3 338.6V343.9" stroke="#0000ff" stroke-width="1.1" fill="none"/><path d="M322.8 338.7L327.8 343.7M322.8 343.7L327.8 338.7" stroke="#0000ff" stroke-width="1.2" fill="none"/><path d="M326.4 341.1H331.7M329.1 338.4V343.7" stroke="#0000ff" stroke-width="1.1" fill="none"/><path d="M326.6 338.6L331.6 343.6M326.6 343.6L331.6 338.6" stroke="#0000ff" stroke-width="1.2" fill="none"/><path d="M329.5 342.9H334.8M332.1 340.2V345.5" stroke="#0000ff" stroke-width="1.1" fill="none"/><path d="M329.6 340.4L334.6 345.4M329.6 345.4L334.6 340.4" stroke="#0000ff" stroke-width="1.2" fill="none"/><path d="M332.5 342.6H337.8M335.1 339.9V345.2" stroke="#0000ff" stroke-width="1.1" fill="none"/><path d="M332.6 340.1L337.6 345.1M332.6 345.1L337.6 340.1" stroke="#0000ff" stroke-width="1.2" fill="none"/><path d="M335.8 342.2H341.1M338.5 339.5V344.8" stroke="#0000ff" stroke-width="1.1" fill="none"/><path d="M336.0 339.7L341.0 344.7M336.0 344.7L341.0 339.7" stroke="#0000ff" stroke-width="1.2" fill="none"/><path d="M338.8 343.2H344.1M341.4 340.5V345.8" stroke="#0000ff" stroke-width="1.1" fill="none"/><path d="M338.9 340.7L343.9 345.7M338.9 345.7L343.9 340.7" stroke="#0000ff" stroke-width="1.2" fill="none"/><path d="M341.9 341.4H347.2M344.6 338.8V344.1" stroke="#0000ff" stroke-width="1.1" fill="none"/><path d="M342.1 338.9L347.1 343.9M342.1 343.9L347.1 338.9" stroke="#0000ff" stroke-width="1.2" fill="none"/><path d="M344.9 341.8H350.2M347.5 339.2V344.5" stroke="#0000ff" stroke-width="1.1" fill="none"/><path d="M345.0 339.3L350.0 344.3M345.0 344.3L350.0 339.3" stroke="#0000ff" stroke-width="1.2" fill="none"/><path d="M348.5 342.9H353.8M351.1 340.2V345.5" stroke="#0000ff" stroke-width="1.1" fill="none"/><path d="M348.6 340.4L353.6 345.4M348.6 345.4L353.6 340.4" stroke="#0000ff" stroke-width="1.2" fill="none"/><path d="M352.1 343.4H357.4M354.8 340.8V346.1" stroke="#0000ff" stroke-width="1.1" fill="none"/><path d="M352.3 340.9L357.3 345.9M352.3 345.9L357.3 340.9" stroke="#0000ff" stroke-width="1.2" fill="none"/><path d="M355.9 341.9H361.2M358.6 339.3V344.6" stroke="#0000ff" stroke-width="1.1" fill="none"/><path d="M356.1 339.4L361.1 344.4M356.1 344.4L361.1 339.4" stroke="#0000ff" stroke-width="1.2" fill="none"/><path d="M359.0 343.1H364.3M361.6 340.5V345.8" stroke="#0000ff" stroke-width="1.1" fill="none"/><path d="M359.1 340.6L364.1 345.6M359.1 345.6L364.1 340.6" stroke="#0000ff" stroke-width="1.2" fill="none"/><path d="M362.6 341.3H367.9M365.3 338.7V344.0" stroke="#0000ff" stroke-width="1.1" fill="none"/><path d="M362.8 338.8L367.8 343.8M362.8 343.8L367.8 338.8" stroke="#0000ff" stroke-width="1.2" fill="none"/><path d="M366.2 341.9H371.5M368.8 339.3V344.6" stroke="#0000ff" stroke-width="1.1" fill="none"/><path d="M366.3 339.4L371.3 344.4M366.3 344.4L371.3 339.4" stroke="#0000ff" stroke-width="1.2" fill="none"/><path d="M369.2 341.5H374.5M371.9 338.8V344.1" stroke="#0000ff" stroke-width="1.1" fill="none"/><path d="M369.4 339.0L374.4 344.0M369.4 344.0L374.4 339.0" stroke="#0000ff" stroke-width="1.2" fill="none"/><path d="M373.0 340.3H378.3M375.7 337.6V342.9" stroke="#0000ff" stroke-width="1.1" fill="none"/><path d="M373.2 337.8L378.2 342.8M373.2 342.8L378.2 337.8" stroke="#0000ff" stroke-width="1.2" fill="none"/><path d="M376.9 341.6H382.2M379.5 338.9V344.2" stroke="#0000ff" stroke-width="1.1" fill="none"/><path d="M377.0 339.1L382.0 344.1M377.0 344.1L382.0 339.1" stroke="#0000ff" stroke-width="1.2" fill="none"/><path d="M380.0 342.0H385.3M382.6 339.3V344.6" stroke="#0000ff" stroke-width="1.1" fill="none"/><path d="M380.1 339.5L385.1 344.5M380.1 344.5L385.1 339.5" stroke="#0000ff" stroke-width="1.2" fill="none"/><path d="M383.9 341.0H389.2M386.5 338.4V343.7" stroke="#0000ff" stroke-width="1.1" fill="none"/><path d="M384.0 338.5L389.0 343.5M384.0 343.5L389.0 338.5" stroke="#0000ff" stroke-width="1.2" fill="none"/><path d="M387.2 341.0H392.5M389.8 338.3V343.6" stroke="#0000ff" stroke-width="1.1" fill="none"/><path d="M387.3 338.5L392.3 343.5M387.3 343.5L392.3 338.5" stroke="#0000ff" stroke-width="1.2" fill="none"/><path d="M390.5 341.9H395.8M393.2 339.3V344.6" stroke="#0000ff" stroke-width="1.1" fill="none"/><path d="M390.7 339.4L395.7 344.4M390.7 344.4L395.7 339.4" stroke="#0000ff" stroke-width="1.2" fill="none"/><path d="M394.4 339.8H399.7M397.1 337.1V342.4" stroke="#0000ff" stroke-width="1.1" fill="none"/><path d="M394.6 337.3L399.6 342.3M394.6 342.3L399.6 337.3" stroke="#0000ff" stroke-width="1.2" fill="none"/><path d="M398.2 339.5H403.5M400.8 336.8V342.1" stroke="#0000ff" stroke-width="1.1" fill="none"/><path d="M398.3 337.0L403.3 342.0M398.3 342.0L403.3 337.0" stroke="#0000ff" stroke-width="1.2" fill="none"/><path d="M401.2 340.0H406.5M403.9 337.3V342.6" stroke="#0000ff" stroke-width="1.1" fill="none"/><path d="M401.4 337.5L406.4 342.5M401.4 342.5L406.4 337.5" stroke="#0000ff" stroke-width="1.2" fill="none"/><path d="M404.6 339.4H409.9M407.2 336.8V342.1" stroke="#0000ff" stroke-width="1.1" fill="none"/><path d="M404.7 336.9L409.7 341.9M404.7 341.9L409.7 336.9" stroke="#0000ff" stroke-width="1.2" fill="none"/><path d="M408.0 341.1H413.3M410.6 338.5V343.8" stroke="#0000ff" stroke-width="1.1" fill="none"/><path d="M408.1 338.6L413.1 343.6M408.1 343.6L413.1 338.6" stroke="#0000ff" stroke-width="1.2" fill="none"/><path d="M411.2 340.2H416.5M413.9 337.6V342.9" stroke="#0000ff" stroke-width="1.1" fill="none"/><path d="M411.4 337.7L416.4 342.7M411.4 342.7L416.4 337.7" stroke="#0000ff" stroke-width="1.2" fill="none"/><path d="M414.3 339.2H419.6M417.0 336.6V341.9" stroke="#0000ff" stroke-width="1.1" fill="none"/><path d="M414.5 336.7L419.5 341.7M414.5 341.7L419.5 336.7" stroke="#0000ff" stroke-width="1.2" fill="none"/><path d="M417.5 339.2H422.8M420.2 336.6V341.9" stroke="#0000ff" stroke-width="1.1" fill="none"/><path d="M417.7 336.7L422.7 341.7M417.7 341.7L422.7 336.7" stroke="#0000ff" stroke-width="1.2" fill="none"/><path d="M421.1 341.6H426.4M423.8 338.9V344.2" stroke="#0000ff" stroke-width="1.1" fill="none"/><path d="M421.3 339.1L426.3 344.1M421.3 344.1L426.3 339.1" stroke="#0000ff" stroke-width="1.2" fill="none"/><path d="M424.1 338.9H429.4M426.7 336.3V341.6" stroke="#0000ff" stroke-width="1.1" fill="none"/><path d="M424.2 336.4L429.2 341.4M424.2 341.4L429.2 336.4" stroke="#0000ff" stroke-width="1.2" fill="none"/><path d="M427.5 338.6H432.8M430.2 336.0V341.3" stroke="#0000ff" stroke-width="1.1" fill="none"/><path d="M427.7 336.1L432.7 341.1M427.7 341.1L432.7 336.1" stroke="#0000ff" stroke-width="1.2" fill="none"/><path d="M430.9 339.3H436.2M433.5 336.6V341.9" stroke="#0000ff" stroke-width="1.1" fill="none"/><path d="M431.0 336.8L436.0 341.8M431.0 341.8L436.0 336.8" stroke="#0000ff" stroke-width="1.2" fill="none"/><path d="M433.8 339.3H439.1M436.4 336.7V342.0" stroke="#0000ff" stroke-width="1.1" fill="none"/><path d="M433.9 336.8L438.9 341.8M433.9 341.8L438.9 336.8" stroke="#0000ff" stroke-width="1.2" fill="none"/><path d="M437.0 338.9H442.3M439.6 336.2V341.5" stroke="#0000ff" stroke-width="1.1" fill="none"/><path d="M437.1 336.4L442.1 341.4M437.1 341.4L442.1 336.4" stroke="#0000ff" stroke-width="1.2" fill="none"/><path d="M440.5 337.9H445.8M443.2 335.2V340.5" stroke="#0000ff" stroke-width="1.1" fill="none"/><path d="M440.7 335.4L445.7 340.4M440.7 340.4L445.7 335.4" stroke="#0000ff" stroke-width="1.2" fill="none"/><path d="M443.9 337.5H449.2M446.6 334.9V340.2" stroke="#0000ff" stroke-width="1.1" fill="none"/><path d="M444.1 335.0L449.1 340.0M444.1 340.0L449.1 335.0" stroke="#0000ff" stroke-width="1.2" fill="none"/><path d="M446.9 338.6H452.2M449.5 336.0V341.3" stroke="#0000ff" stroke-width="1.1" fill="none"/><path d="M447.0 336.1L452.0 341.1M447.0 341.1L452.0 336.1" stroke="#0000ff" stroke-width="1.2" fill="none"/><path d="M450.8 338.0H456.1M453.4 335.3V340.6" stroke="#0000ff" stroke-width="1.1" fill="none"/><path d="M450.9 335.5L455.9 340.5M450.9 340.5L455.9 335.5" stroke="#0000ff" stroke-width="1.2" fill="none"/><path d="M454.5 336.6H459.8M457.1 334.0V339.3" stroke="#0000ff" stroke-width="1.1" fill="none"/><path d="M454.6 334.1L459.6 339.1M454.6 339.1L459.6 334.1" stroke="#0000ff" stroke-width="1.2" fill="none"/><path d="M458.4 338.4H463.7M461.0 335.7V341.0" stroke="#0000ff" stroke-width="1.1" fill="none"/><path d="M458.5 335.9L463.5 340.9M458.5 340.9L463.5 335.9" stroke="#0000ff" stroke-width="1.2" fill="none"/><path d="M461.4 337.9H466.7M464.0 335.2V340.5" stroke="#0000ff" stroke-width="1.1" fill="none"/><path d="M461.5 335.4L466.5 340.4M461.5 340.4L466.5 335.4" stroke="#0000ff" stroke-width="1.2" fill="none"/><path d="M464.5 337.0H469.8M467.2 334.3V339.6" stroke="#0000ff" stroke-width="1.1" fill="none"/><path d="M464.7 334.5L469.7 339.5M464.7 339.5L469.7 334.5" stroke="#0000ff" stroke-width="1.2" fill="none"/><path d="M467.4 336.7H472.7M470.1 334.1V339.4" stroke="#0000ff" stroke-width="1.1" fill="none"/><path d="M467.6 334.2L472.6 339.2M467.6 339.2L472.6 334.2" stroke="#0000ff" stroke-width="1.2" fill="none"/><path d="M471.1 336.8H476.4M473.8 334.2V339.5" stroke="#0000ff" stroke-width="1.1" fill="none"/><path d="M471.3 334.3L476.3 339.3M471.3 339.3L476.3 334.3" stroke="#0000ff" stroke-width="1.2" fill="none"/><path d="M474.3 335.9H479.6M476.9 333.3V338.6" stroke="#0000ff" stroke-width="1.1" fill="none"/><path d="M474.4 333.4L479.4 338.4M474.4 338.4L479.4 333.4" stroke="#0000ff" stroke-width="1.2" fill="none"/><path d="M477.3 335.3H482.6M480.0 332.6V337.9" stroke="#0000ff" stroke-width="1.1" fill="none"/><path d="M477.5 332.8L482.5 337.8M477.5 337.8L482.5 332.8" stroke="#0000ff" stroke-width="1.2" fill="none"/><path d="M480.6 336.2H485.9M483.3 333.5V338.8" stroke="#0000ff" stroke-width="1.1" fill="none"/><path d="M480.8 333.7L485.8 338.7M480.8 338.7L485.8 333.7" stroke="#0000ff" stroke-width="1.2" fill="none"/><path d="M484.5 334.7H489.8M487.1 332.0V337.3" stroke="#0000ff" stroke-width="1.1" fill="none"/><path d="M484.6 332.2L489.6 337.2M484.6 337.2L489.6 332.2" stroke="#0000ff" stroke-width="1.2" fill="none"/><path d="M488.2 335.7H493.5M490.8 333.0V338.3" stroke="#0000ff" stroke-width="1.1" fill="none"/><path d="M488.3 333.2L493.3 338.2M488.3 338.2L493.3 333.2" stroke="#0000ff" stroke-width="1.2" fill="none"/><path d="M491.3 334.1H496.6M494.0 331.5V336.8" stroke="#0000ff" stroke-width="1.1" fill="none"/><path d="M491.5 331.6L496.5 336.6M491.5 336.6L496.5 331.6" stroke="#0000ff" stroke-width="1.2" fill="none"/><path d="M494.4 334.8H499.7M497.0 332.2V337.5" stroke="#0000ff" stroke-width="1.1" fill="none"/><path d="M494.5 332.3L499.5 337.3M494.5 337.3L499.5 332.3" stroke="#0000ff" stroke-width="1.2" fill="none"/><path d="M498.2 334.5H503.5M500.9 331.9V337.2" stroke="#0000ff" stroke-width="1.1" fill="none"/><path d="M498.4 332.0L503.4 337.0M498.4 337.0L503.4 332.0" stroke="#0000ff" stroke-width="1.2" fill="none"/><path d="M501.7 335.5H507.0M504.3 332.9V338.2" stroke="#0000ff" stroke-width="1.1" fill="none"/><path d="M501.8 333.0L506.8 338.0M501.8 338.0L506.8 333.0" stroke="#0000ff" stroke-width="1.2" fill="none"/><path d="M505.3 333.3H510.6M507.9 330.7V336.0" stroke="#0000ff" stroke-width="1.1" fill="none"/><path d="M505.4 330.8L510.4 335.8M505.4 335.8L510.4 330.8" stroke="#0000ff" stroke-width="1.2" fill="none"/><path d="M508.3 332.8H513.6M510.9 330.2V335.5" stroke="#0000ff" stroke-width="1.1" fill="none"/><path d="M508.4 330.3L513.4 335.3M508.4 335.3L513.4 330.3" stroke="#0000ff" stroke-width="1.2" fill="none"/><path d="M511.2 333.1H516.5M513.9 330.4V335.7" stroke="#0000ff" stroke-width="1.1" fill="none"/><path d="M511.4 330.6L516.4 335.6M511.4 335.6L516.4 330.6" stroke="#0000ff" stroke-width="1.2" fill="none"/><path d="M514.8 332.5H520.1M517.5 329.8V335.1" stroke="#0000ff" stroke-width="1.1" fill="none"/><path d="M515.0 330.0L520.0 335.0M515.0 335.0L520.0 330.0" stroke="#0000ff" stroke-width="1.2" fill="none"/><path d="M518.1 332.5H523.4M520.8 329.9V335.2" stroke="#0000ff" stroke-width="1.1" fill="none"/><path d="M518.3 330.0L523.3 335.0M518.3 335.0L523.3 330.0" stroke="#0000ff" stroke-width="1.2" fill="none"/><path d="M521.1 332.9H526.4M523.7 330.3V335.6" stroke="#0000ff" stroke-width="1.1" fill="none"/><path d="M521.2 330.4L526.2 335.4M521.2 335.4L526.2 330.4" stroke="#0000ff" stroke-width="1.2" fill="none"/><path d="M524.9 332.8H530.2M527.6 330.2V335.5" stroke="#0000ff" stroke-width="1.1" fill="none"/><path d="M525.1 330.3L530.1 335.3M525.1 335.3L530.1 330.3" stroke="#0000ff" stroke-width="1.2" fill="none"/><path d="M528.5 333.1H533.8M531.1 330.4V335.7" stroke="#0000ff" stroke-width="1.1" fill="none"/><path d="M528.6 330.6L533.6 335.6M528.6 335.6L533.6 330.6" stroke="#0000ff" stroke-width="1.2" fill="none"/><path d="M532.2 331.2H537.5M534.8 328.5V333.8" stroke="#0000ff" stroke-width="1.1" fill="none"/><path d="M532.3 328.7L537.3 333.7M532.3 333.7L537.3 328.7" stroke="#0000ff" stroke-width="1.2" fill="none"/><path d="M535.2 333.1H540.5M537.8 330.5V335.8" stroke="#0000ff" stroke-width="1.1" fill="none"/><path d="M535.3 330.6L540.3 335.6M535.3 335.6L540.3 330.6" stroke="#0000ff" stroke-width="1.2" fill="none"/><path d="M538.9 332.3H544.2M541.6 329.7V335.0" stroke="#0000ff" stroke-width="1.1" fill="none"/><path d="M539.1 329.8L544.1 334.8M539.1 334.8L544.1 329.8" stroke="#0000ff" stroke-width="1.2" fill="none"/><path d="M541.9 330.6H547.2M544.5 327.9V333.2" stroke="#0000ff" stroke-width="1.1" fill="none"/><path d="M542.0 328.1L547.0 333.1M542.0 333.1L547.0 328.1" stroke="#0000ff" stroke-width="1.2" fill="none"/><path d="M545.6 328.8H550.9M548.3 326.2V331.5" stroke="#0000ff" stroke-width="1.1" fill="none"/><path d="M545.8 326.3L550.8 331.3M545.8 331.3L550.8 326.3" stroke="#0000ff" stroke-width="1.2" fill="none"/><path d="M549.0 330.0H554.3M551.7 327.3V332.6" stroke="#0000ff" stroke-width="1.1" fill="none"/><path d="M549.2 327.5L554.2 332.5M549.2 332.5L554.2 327.5" stroke="#0000ff" stroke-width="1.2" fill="none"/><path d="M552.2 329.8H557.5M554.9 327.1V332.4" stroke="#0000ff" stroke-width="1.1" fill="none"/><path d="M552.4 327.3L557.4 332.3M552.4 332.3L557.4 327.3" stroke="#0000ff" stroke-width="1.2" fill="none"/><path d="M555.7 327.9H561.0M558.3 325.2V330.5" stroke="#0000ff" stroke-width="1.1" fill="none"/><path d="M555.8 325.4L560.8 330.4M555.8 330.4L560.8 325.4" stroke="#0000ff" stroke-width="1.2" fill="none"/><path d="M559.5 329.0H564.8M562.2 326.4V331.7" stroke="#0000ff" stroke-width="1.1" fill="none"/><path d="M559.7 326.5L564.7 331.5M559.7 331.5L564.7 326.5" stroke="#0000ff" stroke-width="1.2" fill="none"/><path d="M562.7 328.5H568.0M565.3 325.9V331.2" stroke="#0000ff" stroke-width="1.1" fill="none"/><path d="M562.8 326.0L567.8 331.0M562.8 331.0L567.8 326.0" stroke="#0000ff" stroke-width="1.2" fill="none"/><path d="M565.7 327.9H571.0M568.4 325.2V330.5" stroke="#0000ff" stroke-width="1.1" fill="none"/><path d="M565.9 325.4L570.9 330.4M565.9 330.4L570.9 325.4" stroke="#0000ff" stroke-width="1.2" fill="none"/><path d="M569.1 328.4H574.4M571.8 325.8V331.1" stroke="#0000ff" stroke-width="1.1" fill="none"/><path d="M569.3 325.9L574.3 330.9M569.3 330.9L574.3 325.9" stroke="#0000ff" stroke-width="1.2" fill="none"/><path d="M572.3 328.4H577.6M574.9 325.7V331.0" stroke="#0000ff" stroke-width="1.1" fill="none"/><path d="M572.4 325.9L577.4 330.9M572.4 330.9L577.4 325.9" stroke="#0000ff" stroke-width="1.2" fill="none"/><path d="M575.3 327.1H580.6M577.9 324.5V329.8" stroke="#0000ff" stroke-width="1.1" fill="none"/><path d="M575.4 324.6L580.4 329.6M575.4 329.6L580.4 324.6" stroke="#0000ff" stroke-width="1.2" fill="none"/><path d="M578.3 327.3H583.6M581.0 324.7V330.0" stroke="#0000ff" stroke-width="1.1" fill="none"/><path d="M578.5 324.8L583.5 329.8M578.5 329.8L583.5 324.8" stroke="#0000ff" stroke-width="1.2" fill="none"/><path d="M581.3 326.5H586.6M583.9 323.8V329.1" stroke="#0000ff" stroke-width="1.1" fill="none"/><path d="M581.4 324.0L586.4 329.0M581.4 329.0L586.4 324.0" stroke="#0000ff" stroke-width="1.2" fill="none"/><path d="M584.4 326.1H589.7M587.0 323.4V328.7" stroke="#0000ff" stroke-width="1.1" fill="none"/><path d="M584.5 323.6L589.5 328.6M584.5 328.6L589.5 323.6" stroke="#0000ff" stroke-width="1.2" fill="none"/><path d="M587.6 326.3H592.9M590.2 323.7V329.0" stroke="#0000ff" stroke-width="1.1" fill="none"/><path d="M587.7 323.8L592.7 328.8M587.7 328.8L592.7 323.8" stroke="#0000ff" stroke-width="1.2" fill="none"/><path d="M590.8 326.3H596.1M593.4 323.7V329.0" stroke="#0000ff" stroke-width="1.1" fill="none"/><path d="M590.9 323.8L595.9 328.8M590.9 328.8L595.9 323.8" stroke="#0000ff" stroke-width="1.2" fill="none"/><path d="M594.4 325.3H599.7M597.1 322.7V328.0" stroke="#0000ff" stroke-width="1.1" fill="none"/><path d="M594.6 322.8L599.6 327.8M594.6 327.8L599.6 322.8" stroke="#0000ff" stroke-width="1.2" fill="none"/><path d="M597.6 324.0H602.9M600.3 321.3V326.6" stroke="#0000ff" stroke-width="1.1" fill="none"/><path d="M597.8 321.5L602.8 326.5M597.8 326.5L602.8 321.5" stroke="#0000ff" stroke-width="1.2" fill="none"/><path d="M601.0 325.4H606.3M603.7 322.8V328.1" stroke="#0000ff" stroke-width="1.1" fill="none"/><path d="M601.2 322.9L606.2 327.9M601.2 327.9L606.2 322.9" stroke="#0000ff" stroke-width="1.2" fill="none"/><path d="M604.1 323.8H609.4M606.7 321.2V326.5" stroke="#0000ff" stroke-width="1.1" fill="none"/><path d="M604.2 321.3L609.2 326.3M604.2 326.3L609.2 321.3" stroke="#0000ff" stroke-width="1.2" fill="none"/><path d="M607.3 324.6H612.6M610.0 322.0V327.3" stroke="#0000ff" stroke-width="1.1" fill="none"/><path d="M607.5 322.1L612.5 327.1M607.5 327.1L612.5 322.1" stroke="#0000ff" stroke-width="1.2" fill="none"/><path d="M610.3 325.4H615.6M612.9 322.7V328.0" stroke="#0000ff" stroke-width="1.1" fill="none"/><path d="M610.4 322.9L615.4 327.9M610.4 327.9L615.4 322.9" stroke="#0000ff" stroke-width="1.2" fill="none"/><path d="M613.4 324.0H618.7M616.0 321.4V326.7" stroke="#0000ff" stroke-width="1.1" fill="none"/><path d="M613.5 321.5L618.5 326.5M613.5 326.5L618.5 321.5" stroke="#0000ff" stroke-width="1.2" fill="none"/><path d="M616.3 323.1H621.6M619.0 320.4V325.7" stroke="#0000ff" stroke-width="1.1" fill="none"/><path d="M616.5 320.6L621.5 325.6M616.5 325.6L621.5 320.6" stroke="#0000ff" stroke-width="1.2" fill="none"/><path d="M619.9 322.6H625.2M622.6 319.9V325.2" stroke="#0000ff" stroke-width="1.1" fill="none"/><path d="M620.1 320.1L625.1 325.1M620.1 325.1L625.1 320.1" stroke="#0000ff" stroke-width="1.2" fill="none"/><path d="M623.4 323.9H628.7M626.0 321.3V326.6" stroke="#0000ff" stroke-width="1.1" fill="none"/><path d="M623.5 321.4L628.5 326.4M623.5 326.4L628.5 321.4" stroke="#0000ff" stroke-width="1.2" fill="none"/><path d="M626.5 322.9H631.8M629.1 320.3V325.6" stroke="#0000ff" stroke-width="1.1" fill="none"/><path d="M626.6 320.4L631.6 325.4M626.6 325.4L631.6 320.4" stroke="#0000ff" stroke-width="1.2" fill="none"/><path d="M629.8 323.0H635.1M632.5 320.3V325.6" stroke="#0000ff" stroke-width="1.1" fill="none"/><path d="M630.0 320.5L635.0 325.5M630.0 325.5L635.0 320.5" stroke="#0000ff" stroke-width="1.2" fill="none"/><path d="M633.7 322.9H639.0M636.3 320.2V325.5" stroke="#0000ff" stroke-width="1.1" fill="none"/><path d="M633.8 320.4L638.8 325.4M633.8 325.4L638.8 320.4" stroke="#0000ff" stroke-width="1.2" fill="none"/><path d="M636.7 322.1H642.0M639.3 319.4V324.7" stroke="#0000ff" stroke-width="1.1" fill="none"/><path d="M636.8 319.6L641.8 324.6M636.8 324.6L641.8 319.6" stroke="#0000ff" stroke-width="1.2" fill="none"/><path d="M640.4 321.6H645.7M643.1 318.9V324.2" stroke="#0000ff" stroke-width="1.1" fill="none"/><path d="M640.6 319.1L645.6 324.1M640.6 324.1L645.6 319.1" stroke="#0000ff" stroke-width="1.2" fill="none"/></g>
<g><rect x="136.2" y="232.4" width="4.9" height="4.9" stroke="#ff00ff" stroke-width="1" fill="none"/><rect x="138.1" y="234.3" width="1.2" height="1.2" fill="#ff00ff"/><rect x="131.2" y="236.5" width="4.9" height="4.9" stroke="#ff00ff" stroke-width="1" fill="none"/><rect x="133.1" y="238.4" width="1.2" height="1.2" fill="#ff00ff"/><rect x="146.0" y="259.7" width="4.9" height="4.9" stroke="#ff00ff" stroke-width="1" fill="none"/><rect x="147.9" y="261.5" width="1.2" height="1.2" fill="#ff00ff"/><rect x="141.0" y="270.6" width="4.9" height="4.9" stroke="#ff00ff" stroke-width="1" fill="none"/><rect x="142.9" y="272.4" width="1.2" height="1.2" fill="#ff00ff"/><rect x="150.9" y="270.2" width="4.9" height="4.9" stroke="#ff00ff" stroke-width="1" fill="none"/><rect x="152.8" y="272.0" width="1.2" height="1.2" fill="#ff00ff"/><rect x="160.2" y="275.9" width="4.9" height="4.9" stroke="#ff00ff" stroke-width="1" fill="none"/><rect x="162.1" y="277.8" width="1.2" height="1.2" fill="#ff00ff"/><rect x="120.5" y="284.4" width="4.9" height="4.9" stroke="#ff00ff" stroke-width="1" fill="none"/><rect x="122.3" y="286.2" width="1.2" height="1.2" fill="#ff00ff"/><rect x="126.4" y="299.6" width="4.9" height="4.9" stroke="#ff00ff" stroke-width="1" fill="none"/><rect x="128.2" y="301.4" width="1.2" height="1.2" fill="#ff00ff"/><rect x="110.6" y="255.7" width="4.9" height="4.9" stroke="#ff00ff" stroke-width="1" fill="none"/><rect x="112.5" y="257.5" width="1.2" height="1.2" fill="#ff00ff"/><rect x="115.5" y="244.0" width="4.9" height="4.9" stroke="#ff00ff" stroke-width="1" fill="none"/><rect x="117.3" y="245.9" width="1.2" height="1.2" fill="#ff00ff"/><rect x="156.2" y="301.4" width="4.9" height="4.9" stroke="#ff00ff" stroke-width="1" fill="none"/><rect x="158.1" y="303.2" width="1.2" height="1.2" fill="#ff00ff"/><rect x="179.6" y="294.7" width="4.9" height="4.9" stroke="#ff00ff" stroke-width="1" fill="none"/><rect x="181.5" y="296.5" width="1.2" height="1.2" fill="#ff00ff"/><rect x="189.1" y="293.7" width="4.9" height="4.9" stroke="#ff00ff" stroke-width="1" fill="none"/><rect x="191.0" y="295.5" width="1.2" height="1.2" fill="#ff00ff"/><rect x="193.5" y="305.2" width="4.9" height="4.9" stroke="#ff00ff" stroke-width="1" fill="none"/><rect x="195.4" y="307.0" width="1.2" height="1.2" fill="#ff00ff"/><rect x="202.0" y="303.4" width="4.9" height="4.9" stroke="#ff00ff" stroke-width="1" fill="none"/><rect x="203.9" y="305.2" width="1.2" height="1.2" fill="#ff00ff"/><rect x="198.3" y="314.1" width="4.9" height="4.9" stroke="#ff00ff" stroke-width="1" fill="none"/><rect x="200.2" y="315.9" width="1.2" height="1.2" fill="#ff00ff"/><rect x="165.4" y="322.6" width="4.9" height="4.9" stroke="#ff00ff" stroke-width="1" fill="none"/><rect x="167.3" y="324.4" width="1.2" height="1.2" fill="#ff00ff"/><rect x="169.5" y="314.1" width="4.9" height="4.9" stroke="#ff00ff" stroke-width="1" fill="none"/><rect x="171.4" y="315.9" width="1.2" height="1.2" fill="#ff00ff"/><rect x="174.5" y="305.1" width="4.9" height="4.9" stroke="#ff00ff" stroke-width="1" fill="none"/><rect x="176.4" y="306.9" width="1.2" height="1.2" fill="#ff00ff"/><rect x="184.0" y="309.6" width="4.9" height="4.9" stroke="#ff00ff" stroke-width="1" fill="none"/><rect x="185.9" y="311.4" width="1.2" height="1.2" fill="#ff00ff"/><rect x="207.5" y="313.6" width="4.9" height="4.9" stroke="#ff00ff" stroke-width="1" fill="none"/><rect x="209.4" y="315.4" width="1.2" height="1.2" fill="#ff00ff"/><rect x="220.9" y="316.4" width="4.9" height="4.9" stroke="#ff00ff" stroke-width="1" fill="none"/><rect x="222.8" y="318.3" width="1.2" height="1.2" fill="#ff00ff"/><rect x="225.3" y="323.2" width="4.9" height="4.9" stroke="#ff00ff" stroke-width="1" fill="none"/><rect x="227.2" y="325.0" width="1.2" height="1.2" fill="#ff00ff"/><rect x="229.2" y="335.7" width="4.9" height="4.9" stroke="#ff00ff" stroke-width="1" fill="none"/><rect x="231.1" y="337.5" width="1.2" height="1.2" fill="#ff00ff"/><rect x="243.1" y="325.8" width="4.9" height="4.9" stroke="#ff00ff" stroke-width="1" fill="none"/><rect x="245.0" y="327.6" width="1.2" height="1.2" fill="#ff00ff"/><rect x="263.6" y="327.2" width="4.9" height="4.9" stroke="#ff00ff" stroke-width="1" fill="none"/><rect x="265.4" y="329.0" width="1.2" height="1.2" fill="#ff00ff"/><rect x="276.4" y="330.8" width="4.9" height="4.9" stroke="#ff00ff" stroke-width="1" fill="none"/><rect x="278.2" y="332.6" width="1.2" height="1.2" fill="#ff00ff"/><rect x="255.7" y="329.6" width="4.9" height="4.9" stroke="#ff00ff" stroke-width="1" fill="none"/><rect x="257.5" y="331.4" width="1.2" height="1.2" fill="#ff00ff"/><rect x="234.2" y="327.8" width="4.9" height="4.9" stroke="#ff00ff" stroke-width="1" fill="none"/><rect x="236.1" y="329.6" width="1.2" height="1.2" fill="#ff00ff"/><rect x="303.8" y="341.7" width="4.9" height="4.9" stroke="#ff00ff" stroke-width="1" fill="none"/><rect x="305.6" y="343.5" width="1.2" height="1.2" fill="#ff00ff"/><rect x="318.9" y="343.1" width="4.9" height="4.9" stroke="#ff00ff" stroke-width="1" fill="none"/><rect x="320.8" y="344.9" width="1.2" height="1.2" fill="#ff00ff"/><rect x="334.4" y="342.1" width="4.9" height="4.9" stroke="#ff00ff" stroke-width="1" fill="none"/><rect x="336.3" y="343.9" width="1.2" height="1.2" fill="#ff00ff"/><rect x="267.9" y="330.8" width="4.9" height="4.9" stroke="#ff00ff" stroke-width="1" fill="none"/><rect x="269.8" y="332.6" width="1.2" height="1.2" fill="#ff00ff"/><rect x="238.2" y="329.2" width="4.9" height="4.9" stroke="#ff00ff" stroke-width="1" fill="none"/><rect x="240.1" y="331.0" width="1.2" height="1.2" fill="#ff00ff"/><rect x="330.6" y="335.1" width="4.9" height="4.9" stroke="#ff00ff" stroke-width="1" fill="none"/><rect x="332.4" y="336.9" width="1.2" height="1.2" fill="#ff00ff"/><rect x="212.5" y="319.6" width="4.9" height="4.9" stroke="#ff00ff" stroke-width="1" fill="none"/><rect x="214.4" y="321.4" width="1.2" height="1.2" fill="#ff00ff"/><rect x="216.5" y="324.6" width="4.9" height="4.9" stroke="#ff00ff" stroke-width="1" fill="none"/><rect x="218.4" y="326.4" width="1.2" height="1.2" fill="#ff00ff"/><rect x="659.2" y="312.4" width="4.9" height="4.9" stroke="#ff00ff" stroke-width="1" fill="none"/><rect x="661.0" y="314.3" width="1.2" height="1.2" fill="#ff00ff"/><rect x="664.1" y="313.8" width="4.9" height="4.9" stroke="#ff00ff" stroke-width="1" fill="none"/><rect x="665.9" y="315.6" width="1.2" height="1.2" fill="#ff00ff"/><rect x="668.6" y="314.6" width="4.9" height="4.9" stroke="#ff00ff" stroke-width="1" fill="none"/><rect x="670.4" y="316.4" width="1.2" height="1.2" fill="#ff00ff"/><rect x="206.2" y="322.5" width="4.9" height="4.9" stroke="#ff00ff" stroke-width="1" fill="none"/><rect x="208.0" y="324.3" width="1.2" height="1.2" fill="#ff00ff"/><rect x="212.7" y="319.4" width="4.9" height="4.9" stroke="#ff00ff" stroke-width="1" fill="none"/><rect x="214.6" y="321.3" width="1.2" height="1.2" fill="#ff00ff"/><rect x="218.5" y="324.9" width="4.9" height="4.9" stroke="#ff00ff" stroke-width="1" fill="none"/><rect x="220.3" y="326.8" width="1.2" height="1.2" fill="#ff00ff"/><rect x="224.4" y="329.8" width="4.9" height="4.9" stroke="#ff00ff" stroke-width="1" fill="none"/><rect x="226.3" y="331.6" width="1.2" height="1.2" fill="#ff00ff"/><rect x="230.7" y="330.8" width="4.9" height="4.9" stroke="#ff00ff" stroke-width="1" fill="none"/><rect x="232.5" y="332.7" width="1.2" height="1.2" fill="#ff00ff"/><rect x="237.5" y="333.3" width="4.9" height="4.9" stroke="#ff00ff" stroke-width="1" fill="none"/><rect x="239.3" y="335.1" width="1.2" height="1.2" fill="#ff00ff"/><rect x="243.2" y="332.9" width="4.9" height="4.9" stroke="#ff00ff" stroke-width="1" fill="none"/><rect x="245.0" y="334.8" width="1.2" height="1.2" fill="#ff00ff"/><rect x="249.7" y="334.3" width="4.9" height="4.9" stroke="#ff00ff" stroke-width="1" fill="none"/><rect x="251.5" y="336.1" width="1.2" height="1.2" fill="#ff00ff"/><rect x="256.0" y="336.2" width="4.9" height="4.9" stroke="#ff00ff" stroke-width="1" fill="none"/><rect x="257.8" y="338.0" width="1.2" height="1.2" fill="#ff00ff"/><rect x="262.2" y="333.5" width="4.9" height="4.9" stroke="#ff00ff" stroke-width="1" fill="none"/><rect x="264.0" y="335.3" width="1.2" height="1.2" fill="#ff00ff"/><rect x="267.9" y="335.1" width="4.9" height="4.9" stroke="#ff00ff" stroke-width="1" fill="none"/><rect x="269.8" y="337.0" width="1.2" height="1.2" fill="#ff00ff"/><rect x="273.6" y="333.2" width="4.9" height="4.9" stroke="#ff00ff" stroke-width="1" fill="none"/><rect x="275.5" y="335.0" width="1.2" height="1.2" fill="#ff00ff"/><rect x="278.8" y="338.2" width="4.9" height="4.9" stroke="#ff00ff" stroke-width="1" fill="none"/><rect x="280.6" y="340.1" width="1.2" height="1.2" fill="#ff00ff"/><rect x="284.0" y="336.9" width="4.9" height="4.9" stroke="#ff00ff" stroke-width="1" fill="none"/><rect x="285.9" y="338.7" width="1.2" height="1.2" fill="#ff00ff"/><rect x="289.2" y="337.9" width="4.9" height="4.9" stroke="#ff00ff" stroke-width="1" fill="none"/><rect x="291.1" y="339.8" width="1.2" height="1.2" fill="#ff00ff"/><rect x="295.6" y="339.9" width="4.9" height="4.9" stroke="#ff00ff" stroke-width="1" fill="none"/><rect x="297.4" y="341.7" width="1.2" height="1.2" fill="#ff00ff"/><rect x="301.1" y="339.3" width="4.9" height="4.9" stroke="#ff00ff" stroke-width="1" fill="none"/><rect x="302.9" y="341.1" width="1.2" height="1.2" fill="#ff00ff"/><rect x="306.4" y="337.6" width="4.9" height="4.9" stroke="#ff00ff" stroke-width="1" fill="none"/><rect x="308.3" y="339.5" width="1.2" height="1.2" fill="#ff00ff"/><rect x="311.6" y="339.0" width="4.9" height="4.9" stroke="#ff00ff" stroke-width="1" fill="none"/><rect x="313.5" y="340.9" width="1.2" height="1.2" fill="#ff00ff"/><rect x="318.2" y="335.7" width="4.9" height="4.9" stroke="#ff00ff" stroke-width="1" fill="none"/><rect x="320.0" y="337.6" width="1.2" height="1.2" fill="#ff00ff"/><rect x="324.8" y="338.6" width="4.9" height="4.9" stroke="#ff00ff" stroke-width="1" fill="none"/><rect x="326.6" y="340.5" width="1.2" height="1.2" fill="#ff00ff"/><rect x="331.0" y="338.3" width="4.9" height="4.9" stroke="#ff00ff" stroke-width="1" fill="none"/><rect x="332.9" y="340.1" width="1.2" height="1.2" fill="#ff00ff"/><rect x="336.6" y="335.7" width="4.9" height="4.9" stroke="#ff00ff" stroke-width="1" fill="none"/><rect x="338.4" y="337.6" width="1.2" height="1.2" fill="#ff00ff"/><rect x="342.1" y="339.9" width="4.9" height="4.9" stroke="#ff00ff" stroke-width="1" fill="none"/><rect x="343.9" y="341.8" width="1.2" height="1.2" fill="#ff00ff"/><rect x="345.2" y="337.0" width="4.9" height="4.9" stroke="#ff00ff" stroke-width="1" fill="none"/><rect x="347.0" y="338.9" width="1.2" height="1.2" fill="#ff00ff"/><rect x="348.4" y="338.9" width="4.9" height="4.9" stroke="#ff00ff" stroke-width="1" fill="none"/><rect x="350.3" y="340.7" width="1.2" height="1.2" fill="#ff00ff"/><rect x="351.4" y="337.3" width="4.9" height="4.9" stroke="#ff00ff" stroke-width="1" fill="none"/><rect x="353.2" y="339.2" width="1.2" height="1.2" fill="#ff00ff"/><rect x="354.6" y="339.2" width="4.9" height="4.9" stroke="#ff00ff" stroke-width="1" fill="none"/><rect x="356.5" y="341.0" width="1.2" height="1.2" fill="#ff00ff"/><rect x="357.7" y="339.5" width="4.9" height="4.9" stroke="#ff00ff" stroke-width="1" fill="none"/><rect x="359.5" y="341.4" width="1.2" height="1.2" fill="#ff00ff"/><rect x="361.4" y="336.5" width="4.9" height="4.9" stroke="#ff00ff" stroke-width="1" fill="none"/><rect x="363.3" y="338.4" width="1.2" height="1.2" fill="#ff00ff"/><rect x="365.2" y="335.5" width="4.9" height="4.9" stroke="#ff00ff" stroke-width="1" fill="none"/><rect x="367.1" y="337.4" width="1.2" height="1.2" fill="#ff00ff"/><rect x="368.6" y="337.3" width="4.9" height="4.9" stroke="#ff00ff" stroke-width="1" fill="none"/><rect x="370.4" y="339.1" width="1.2" height="1.2" fill="#ff00ff"/><rect x="371.6" y="338.5" width="4.9" height="4.9" stroke="#ff00ff" stroke-width="1" fill="none"/><rect x="373.5" y="340.3" width="1.2" height="1.2" fill="#ff00ff"/><rect x="375.4" y="336.8" width="4.9" height="4.9" stroke="#ff00ff" stroke-width="1" fill="none"/><rect x="377.2" y="338.6" width="1.2" height="1.2" fill="#ff00ff"/><rect x="378.5" y="336.4" width="4.9" height="4.9" stroke="#ff00ff" stroke-width="1" fill="none"/><rect x="380.3" y="338.2" width="1.2" height="1.2" fill="#ff00ff"/><rect x="381.6" y="337.7" width="4.9" height="4.9" stroke="#ff00ff" stroke-width="1" fill="none"/><rect x="383.5" y="339.5" width="1.2" height="1.2" fill="#ff00ff"/><rect x="384.4" y="333.5" width="4.9" height="4.9" stroke="#ff00ff" stroke-width="1" fill="none"/><rect x="386.3" y="335.3" width="1.2" height="1.2" fill="#ff00ff"/><rect x="387.6" y="336.0" width="4.9" height="4.9" stroke="#ff00ff" stroke-width="1" fill="none"/><rect x="389.5" y="337.9" width="1.2" height="1.2" fill="#ff00ff"/><rect x="390.9" y="335.0" width="4.9" height="4.9" stroke="#ff00ff" stroke-width="1" fill="none"/><rect x="392.7" y="336.9" width="1.2" height="1.2" fill="#ff00ff"/><rect x="394.2" y="336.9" width="4.9" height="4.9" stroke="#ff00ff" stroke-width="1" fill="none"/><rect x="396.0" y="338.8" width="1.2" height="1.2" fill="#ff00ff"/><rect x="397.2" y="335.6" width="4.9" height="4.9" stroke="#ff00ff" stroke-width="1" fill="none"/><rect x="399.1" y="337.4" width="1.2" height="1.2" fill="#ff00ff"/><rect x="400.5" y="335.0" width="4.9" height="4.9" stroke="#ff00ff" stroke-width="1" fill="none"/><rect x="402.4" y="336.8" width="1.2" height="1.2" fill="#ff00ff"/><rect x="403.3" y="335.8" width="4.9" height="4.9" stroke="#ff00ff" stroke-width="1" fill="none"/><rect x="405.2" y="337.6" width="1.2" height="1.2" fill="#ff00ff"/><rect x="406.4" y="334.3" width="4.9" height="4.9" stroke="#ff00ff" stroke-width="1" fill="none"/><rect x="408.2" y="336.1" width="1.2" height="1.2" fill="#ff00ff"/><rect x="409.3" y="335.9" width="4.9" height="4.9" stroke="#ff00ff" stroke-width="1" fill="none"/><rect x="411.1" y="337.7" width="1.2" height="1.2" fill="#ff00ff"/><rect x="412.5" y="335.0" width="4.9" height="4.9" stroke="#ff00ff" stroke-width="1" fill="none"/><rect x="414.3" y="336.8" width="1.2" height="1.2" fill="#ff00ff"/><rect x="415.3" y="335.2" width="4.9" height="4.9" stroke="#ff00ff" stroke-width="1" fill="none"/><rect x="417.2" y="337.0" width="1.2" height="1.2" fill="#ff00ff"/><rect x="418.2" y="334.6" width="4.9" height="4.9" stroke="#ff00ff" stroke-width="1" fill="none"/><rect x="420.0" y="336.5" width="1.2" height="1.2" fill="#ff00ff"/><rect x="421.3" y="336.4" width="4.9" height="4.9" stroke="#ff00ff" stroke-width="1" fill="none"/><rect x="423.1" y="338.3" width="1.2" height="1.2" fill="#ff00ff"/><rect x="424.3" y="335.1" width="4.9" height="4.9" stroke="#ff00ff" stroke-width="1" fill="none"/><rect x="426.1" y="336.9" width="1.2" height="1.2" fill="#ff00ff"/><rect x="427.7" y="335.6" width="4.9" height="4.9" stroke="#ff00ff" stroke-width="1" fill="none"/><rect x="429.5" y="337.5" width="1.2" height="1.2" fill="#ff00ff"/><rect x="431.0" y="335.4" width="4.9" height="4.9" stroke="#ff00ff" stroke-width="1" fill="none"/><rect x="432.9" y="337.3" width="1.2" height="1.2" fill="#ff00ff"/><rect x="434.6" y="333.7" width="4.9" height="4.9" stroke="#ff00ff" stroke-width="1" fill="none"/><rect x="436.4" y="335.6" width="1.2" height="1.2" fill="#ff00ff"/><rect x="438.0" y="335.1" width="4.9" height="4.9" stroke="#ff00ff" stroke-width="1" fill="none"/><rect x="439.9" y="337.0" width="1.2" height="1.2" fill="#ff00ff"/><rect x="441.5" y="334.7" width="4.9" height="4.9" stroke="#ff00ff" stroke-width="1" fill="none"/><rect x="443.4" y="336.6" width="1.2" height="1.2" fill="#ff00ff"/><rect x="445.2" y="334.5" width="4.9" height="4.9" stroke="#ff00ff" stroke-width="1" fill="none"/><rect x="447.1" y="336.3" width="1.2" height="1.2" fill="#ff00ff"/><rect x="448.4" y="333.5" width="4.9" height="4.9" stroke="#ff00ff" stroke-width="1" fill="none"/><rect x="450.2" y="335.3" width="1.2" height="1.2" fill="#ff00ff"/><rect x="451.5" y="333.3" width="4.9" height="4.9" stroke="#ff00ff" stroke-width="1" fill="none"/><rect x="453.4" y="335.1" width="1.2" height="1.2" fill="#ff00ff"/><rect x="455.3" y="334.4" width="4.9" height="4.9" stroke="#ff00ff" stroke-width="1" fill="none"/><rect x="457.1" y="336.3" width="1.2" height="1.2" fill="#ff00ff"/><rect x="458.3" y="335.8" width="4.9" height="4.9" stroke="#ff00ff" stroke-width="1" fill="none"/><rect x="460.1" y="337.7" width="1.2" height="1.2" fill="#ff00ff"/><rect x="461.8" y="332.2" width="4.9" height="4.9" stroke="#ff00ff" stroke-width="1" fill="none"/><rect x="463.6" y="334.0" width="1.2" height="1.2" fill="#ff00ff"/><rect x="465.2" y="333.5" width="4.9" height="4.9" stroke="#ff00ff" stroke-width="1" fill="none"/><rect x="467.1" y="335.3" width="1.2" height="1.2" fill="#ff00ff"/><rect x="468.1" y="332.3" width="4.9" height="4.9" stroke="#ff00ff" stroke-width="1" fill="none"/><rect x="469.9" y="334.1" width="1.2" height="1.2" fill="#ff00ff"/><rect x="471.7" y="333.3" width="4.9" height="4.9" stroke="#ff00ff" stroke-width="1" fill="none"/><rect x="473.5" y="335.2" width="1.2" height="1.2" fill="#ff00ff"/><rect x="475.4" y="332.6" width="4.9" height="4.9" stroke="#ff00ff" stroke-width="1" fill="none"/><rect x="477.2" y="334.5" width="1.2" height="1.2" fill="#ff00ff"/><rect x="478.8" y="333.1" width="4.9" height="4.9" stroke="#ff00ff" stroke-width="1" fill="none"/><rect x="480.7" y="334.9" width="1.2" height="1.2" fill="#ff00ff"/><rect x="482.3" y="328.5" width="4.9" height="4.9" stroke="#ff00ff" stroke-width="1" fill="none"/><rect x="484.2" y="330.4" width="1.2" height="1.2" fill="#ff00ff"/><rect x="486.0" y="330.7" width="4.9" height="4.9" stroke="#ff00ff" stroke-width="1" fill="none"/><rect x="487.8" y="332.5" width="1.2" height="1.2" fill="#ff00ff"/><rect x="488.9" y="330.0" width="4.9" height="4.9" stroke="#ff00ff" stroke-width="1" fill="none"/><rect x="490.7" y="331.9" width="1.2" height="1.2" fill="#ff00ff"/><rect x="492.2" y="330.8" width="4.9" height="4.9" stroke="#ff00ff" stroke-width="1" fill="none"/><rect x="494.1" y="332.6" width="1.2" height="1.2" fill="#ff00ff"/><rect x="495.5" y="329.8" width="4.9" height="4.9" stroke="#ff00ff" stroke-width="1" fill="none"/><rect x="497.4" y="331.7" width="1.2" height="1.2" fill="#ff00ff"/><rect x="499.2" y="329.6" width="4.9" height="4.9" stroke="#ff00ff" stroke-width="1" fill="none"/><rect x="501.0" y="331.5" width="1.2" height="1.2" fill="#ff00ff"/><rect x="502.8" y="330.8" width="4.9" height="4.9" stroke="#ff00ff" stroke-width="1" fill="none"/><rect x="504.6" y="332.6" width="1.2" height="1.2" fill="#ff00ff"/><rect x="506.4" y="331.8" width="4.9" height="4.9" stroke="#ff00ff" stroke-width="1" fill="none"/><rect x="508.2" y="333.6" width="1.2" height="1.2" fill="#ff00ff"/><rect x="509.8" y="326.4" width="4.9" height="4.9" stroke="#ff00ff" stroke-width="1" fill="none"/><rect x="511.6" y="328.3" width="1.2" height="1.2" fill="#ff00ff"/><rect x="513.4" y="328.8" width="4.9" height="4.9" stroke="#ff00ff" stroke-width="1" fill="none"/><rect x="515.3" y="330.7" width="1.2" height="1.2" fill="#ff00ff"/><rect x="516.9" y="329.2" width="4.9" height="4.9" stroke="#ff00ff" stroke-width="1" fill="none"/><rect x="518.8" y="331.0" width="1.2" height="1.2" fill="#ff00ff"/><rect x="520.4" y="328.5" width="4.9" height="4.9" stroke="#ff00ff" stroke-width="1" fill="none"/><rect x="522.3" y="330.4" width="1.2" height="1.2" fill="#ff00ff"/><rect x="523.5" y="327.9" width="4.9" height="4.9" stroke="#ff00ff" stroke-width="1" fill="none"/><rect x="525.3" y="329.7" width="1.2" height="1.2" fill="#ff00ff"/><rect x="526.3" y="326.6" width="4.9" height="4.9" stroke="#ff00ff" stroke-width="1" fill="none"/><rect x="528.1" y="328.4" width="1.2" height="1.2" fill="#ff00ff"/><rect x="529.2" y="326.7" width="4.9" height="4.9" stroke="#ff00ff" stroke-width="1" fill="none"/><rect x="531.1" y="328.6" width="1.2" height="1.2" fill="#ff00ff"/><rect x="532.4" y="328.2" width="4.9" height="4.9" stroke="#ff00ff" stroke-width="1" fill="none"/><rect x="534.2" y="330.0" width="1.2" height="1.2" fill="#ff00ff"/><rect x="535.3" y="328.3" width="4.9" height="4.9" stroke="#ff00ff" stroke-width="1" fill="none"/><rect x="537.1" y="330.1" width="1.2" height="1.2" fill="#ff00ff"/><rect x="538.9" y="326.9" width="4.9" height="4.9" stroke="#ff00ff" stroke-width="1" fill="none"/><rect x="540.8" y="328.7" width="1.2" height="1.2" fill="#ff00ff"/><rect x="542.3" y="325.6" width="4.9" height="4.9" stroke="#ff00ff" stroke-width="1" fill="none"/><rect x="544.1" y="327.4" width="1.2" height="1.2" fill="#ff00ff"/><rect x="545.7" y="326.2" width="4.9" height="4.9" stroke="#ff00ff" stroke-width="1" fill="none"/><rect x="547.6" y="328.1" width="1.2" height="1.2" fill="#ff00ff"/><rect x="549.1" y="325.5" width="4.9" height="4.9" stroke="#ff00ff" stroke-width="1" fill="none"/><rect x="551.0" y="327.4" width="1.2" height="1.2" fill="#ff00ff"/><rect x="552.6" y="326.0" width="4.9" height="4.9" stroke="#ff00ff" stroke-width="1" fill="none"/><rect x="554.5" y="327.9" width="1.2" height="1.2" fill="#ff00ff"/><rect x="555.9" y="325.2" width="4.9" height="4.9" stroke="#ff00ff" stroke-width="1" fill="none"/><rect x="557.8" y="327.1" width="1.2" height="1.2" fill="#ff00ff"/><rect x="558.7" y="324.2" width="4.9" height="4.9" stroke="#ff00ff" stroke-width="1" fill="none"/><rect x="560.6" y="326.1" width="1.2" height="1.2" fill="#ff00ff"/><rect x="562.3" y="324.7" width="4.9" height="4.9" stroke="#ff00ff" stroke-width="1" fill="none"/><rect x="564.2" y="326.5" width="1.2" height="1.2" fill="#ff00ff"/><rect x="565.9" y="323.0" width="4.9" height="4.9" stroke="#ff00ff" stroke-width="1" fill="none"/><rect x="567.7" y="324.8" width="1.2" height="1.2" fill="#ff00ff"/><rect x="569.2" y="324.7" width="4.9" height="4.9" stroke="#ff00ff" stroke-width="1" fill="none"/><rect x="571.0" y="326.5" width="1.2" height="1.2" fill="#ff00ff"/><rect x="572.5" y="324.7" width="4.9" height="4.9" stroke="#ff00ff" stroke-width="1" fill="none"/><rect x="574.3" y="326.5" width="1.2" height="1.2" fill="#ff00ff"/><rect x="576.0" y="322.0" width="4.9" height="4.9" stroke="#ff00ff" stroke-width="1" fill="none"/><rect x="577.8" y="323.8" width="1.2" height="1.2" fill="#ff00ff"/><rect x="578.8" y="323.3" width="4.9" height="4.9" stroke="#ff00ff" stroke-width="1" fill="none"/><rect x="580.7" y="325.2" width="1.2" height="1.2" fill="#ff00ff"/><rect x="582.4" y="321.6" width="4.9" height="4.9" stroke="#ff00ff" stroke-width="1" fill="none"/><rect x="584.2" y="323.4" width="1.2" height="1.2" fill="#ff00ff"/><rect x="585.4" y="323.3" width="4.9" height="4.9" stroke="#ff00ff" stroke-width="1" fill="none"/><rect x="587.3" y="325.2" width="1.2" height="1.2" fill="#ff00ff"/><rect x="588.3" y="322.9" width="4.9" height="4.9" stroke="#ff00ff" stroke-width="1" fill="none"/><rect x="590.1" y="324.7" width="1.2" height="1.2" fill="#ff00ff"/><rect x="591.4" y="321.5" width="4.9" height="4.9" stroke="#ff00ff" stroke-width="1" fill="none"/><rect x="593.2" y="323.3" width="1.2" height="1.2" fill="#ff00ff"/><rect x="594.9" y="322.4" width="4.9" height="4.9" stroke="#ff00ff" stroke-width="1" fill="none"/><rect x="596.7" y="324.2" width="1.2" height="1.2" fill="#ff00ff"/><rect x="597.9" y="320.7" width="4.9" height="4.9" stroke="#ff00ff" stroke-width="1" fill="none"/><rect x="599.7" y="322.5" width="1.2" height="1.2" fill="#ff00ff"/><rect x="601.4" y="320.1" width="4.9" height="4.9" stroke="#ff00ff" stroke-width="1" fill="none"/><rect x="603.3" y="322.0" width="1.2" height="1.2" fill="#ff00ff"/><rect x="605.2" y="319.8" width="4.9" height="4.9" stroke="#ff00ff" stroke-width="1" fill="none"/><rect x="607.1" y="321.7" width="1.2" height="1.2" fill="#ff00ff"/><rect x="608.5" y="319.9" width="4.9" height="4.9" stroke="#ff00ff" stroke-width="1" fill="none"/><rect x="610.3" y="321.7" width="1.2" height="1.2" fill="#ff00ff"/><rect x="611.7" y="319.4" width="4.9" height="4.9" stroke="#ff00ff" stroke-width="1" fill="none"/><rect x="613.5" y="321.3" width="1.2" height="1.2" fill="#ff00ff"/><rect x="615.0" y="319.5" width="4.9" height="4.9" stroke="#ff00ff" stroke-width="1" fill="none"/><rect x="616.8" y="321.4" width="1.2" height="1.2" fill="#ff00ff"/><rect x="618.4" y="318.5" width="4.9" height="4.9" stroke="#ff00ff" stroke-width="1" fill="none"/><rect x="620.3" y="320.3" width="1.2" height="1.2" fill="#ff00ff"/><rect x="622.0" y="319.4" width="4.9" height="4.9" stroke="#ff00ff" stroke-width="1" fill="none"/><rect x="623.9" y="321.3" width="1.2" height="1.2" fill="#ff00ff"/><rect x="625.4" y="319.3" width="4.9" height="4.9" stroke="#ff00ff" stroke-width="1" fill="none"/><rect x="627.3" y="321.2" width="1.2" height="1.2" fill="#ff00ff"/><rect x="628.9" y="317.5" width="4.9" height="4.9" stroke="#ff00ff" stroke-width="1" fill="none"/><rect x="630.7" y="319.4" width="1.2" height="1.2" fill="#ff00ff"/><rect x="631.7" y="316.4" width="4.9" height="4.9" stroke="#ff00ff" stroke-width="1" fill="none"/><rect x="633.6" y="318.2" width="1.2" height="1.2" fill="#ff00ff"/><rect x="634.7" y="318.1" width="4.9" height="4.9" stroke="#ff00ff" stroke-width="1" fill="none"/><rect x="636.5" y="320.0" width="1.2" height="1.2" fill="#ff00ff"/><rect x="637.8" y="318.2" width="4.9" height="4.9" stroke="#ff00ff" stroke-width="1" fill="none"/><rect x="639.6" y="320.0" width="1.2" height="1.2" fill="#ff00ff"/><rect x="641.3" y="316.6" width="4.9" height="4.9" stroke="#ff00ff" stroke-width="1" fill="none"/><rect x="643.1" y="318.5" width="1.2" height="1.2" fill="#ff00ff"/><rect x="644.4" y="315.3" width="4.9" height="4.9" stroke="#ff00ff" stroke-width="1" fill="none"/><rect x="646.2" y="317.1" width="1.2" height="1.2" fill="#ff00ff"/><rect x="647.8" y="316.4" width="4.9" height="4.9" stroke="#ff00ff" stroke-width="1" fill="none"/><rect x="649.6" y="318.3" width="1.2" height="1.2" fill="#ff00ff"/><rect x="650.6" y="317.3" width="4.9" height="4.9" stroke="#ff00ff" stroke-width="1" fill="none"/><rect x="652.4" y="319.2" width="1.2" height="1.2" fill="#ff00ff"/><rect x="653.4" y="313.9" width="4.9" height="4.9" stroke="#ff00ff" stroke-width="1" fill="none"/><rect x="655.3" y="315.8" width="1.2" height="1.2" fill="#ff00ff"/></g>
<g><rect x="118.1" y="241.7" width="5.3" height="5.3" fill="#00ffff"/><rect x="122.9" y="246.5" width="5.3" height="5.3" fill="#00ffff"/><rect x="113.4" y="255.8" width="5.3" height="5.3" fill="#00ffff"/><rect x="127.8" y="259.5" width="5.3" height="5.3" fill="#00ffff"/><rect x="136.9" y="264.1" width="5.3" height="5.3" fill="#00ffff"/><rect x="133.7" y="279.4" width="5.3" height="5.3" fill="#00ffff"/><rect x="142.2" y="284.7" width="5.3" height="5.3" fill="#00ffff"/><rect x="146.5" y="303.9" width="5.3" height="5.3" fill="#00ffff"/><rect x="150.8" y="297.6" width="5.3" height="5.3" fill="#00ffff"/><rect x="160.5" y="298.5" width="5.3" height="5.3" fill="#00ffff"/><rect x="177.8" y="303.7" width="5.3" height="5.3" fill="#00ffff"/><rect x="168.3" y="318.1" width="5.3" height="5.3" fill="#00ffff"/><rect x="186.9" y="313.9" width="5.3" height="5.3" fill="#00ffff"/><rect x="155.3" y="293.4" width="5.3" height="5.3" fill="#00ffff"/><rect x="164.3" y="308.4" width="5.3" height="5.3" fill="#00ffff"/><rect x="173.3" y="309.4" width="5.3" height="5.3" fill="#00ffff"/><rect x="182.3" y="315.4" width="5.3" height="5.3" fill="#00ffff"/><rect x="191.3" y="317.4" width="5.3" height="5.3" fill="#00ffff"/><rect x="196.3" y="320.4" width="5.3" height="5.3" fill="#00ffff"/><rect x="200.8" y="321.9" width="5.3" height="5.3" fill="#00ffff"/><rect x="216.2" y="320.1" width="5.3" height="5.3" fill="#00ffff"/><rect x="274.8" y="341.9" width="5.3" height="5.3" fill="#00ffff"/><rect x="272.4" y="340.9" width="5.3" height="5.3" fill="#00ffff"/><rect x="206.3" y="326.5" width="5.3" height="5.3" fill="#00ffff"/><rect x="209.4" y="326.3" width="5.3" height="5.3" fill="#00ffff"/><rect x="212.4" y="326.5" width="5.3" height="5.3" fill="#00ffff"/><rect x="215.1" y="329.2" width="5.3" height="5.3" fill="#00ffff"/><rect x="218.1" y="327.5" width="5.3" height="5.3" fill="#00ffff"/><rect x="220.9" y="330.4" width="5.3" height="5.3" fill="#00ffff"/><rect x="223.8" y="332.5" width="5.3" height="5.3" fill="#00ffff"/><rect x="226.4" y="331.5" width="5.3" height="5.3" fill="#00ffff"/><rect x="229.6" y="330.8" width="5.3" height="5.3" fill="#00ffff"/><rect x="232.2" y="330.2" width="5.3" height="5.3" fill="#00ffff"/><rect x="235.6" y="331.4" width="5.3" height="5.3" fill="#00ffff"/><rect x="238.8" y="331.3" width="5.3" height="5.3" fill="#00ffff"/><rect x="241.3" y="335.9" width="5.3" height="5.3" fill="#00ffff"/><rect x="244.2" y="334.0" width="5.3" height="5.3" fill="#00ffff"/><rect x="247.4" y="333.5" width="5.3" height="5.3" fill="#00ffff"/><rect x="250.7" y="333.6" width="5.3" height="5.3" fill="#00ffff"/><rect x="253.5" y="334.2" width="5.3" height="5.3" fill="#00ffff"/><rect x="256.2" y="335.3" width="5.3" height="5.3" fill="#00ffff"/><rect x="258.9" y="334.5" width="5.3" height="5.3" fill="#00ffff"/><rect x="262.2" y="338.0" width="5.3" height="5.3" fill="#00ffff"/><rect x="264.8" y="335.7" width="5.3" height="5.3" fill="#00ffff"/><rect x="267.8" y="336.0" width="5.3" height="5.3" fill="#00ffff"/><rect x="270.4" y="337.3" width="5.3" height="5.3" fill="#00ffff"/><rect x="273.3" y="338.6" width="5.3" height="5.3" fill="#00ffff"/><rect x="276.6" y="338.7" width="5.3" height="5.3" fill="#00ffff"/><rect x="279.2" y="337.2" width="5.3" height="5.3" fill="#00ffff"/><rect x="282.3" y="338.1" width="5.3" height="5.3" fill="#00ffff"/><rect x="285.2" y="338.2" width="5.3" height="5.3" fill="#00ffff"/><rect x="288.5" y="338.7" width="5.3" height="5.3" fill="#00ffff"/><rect x="291.6" y="338.6" width="5.3" height="5.3" fill="#00ffff"/><rect x="294.2" y="337.8" width="5.3" height="5.3" fill="#00ffff"/><rect x="297.5" y="337.7" width="5.3" height="5.3" fill="#00ffff"/><rect x="300.4" y="338.9" width="5.3" height="5.3" fill="#00ffff"/><rect x="302.8" y="337.9" width="5.3" height="5.3" fill="#00ffff"/><rect x="305.3" y="340.0" width="5.3" height="5.3" fill="#00ffff"/><rect x="308.2" y="339.0" width="5.3" height="5.3" fill="#00ffff"/><rect x="311.1" y="338.3" width="5.3" height="5.3" fill="#00ffff"/><rect x="313.8" y="338.9" width="5.3" height="5.3" fill="#00ffff"/><rect x="316.4" y="338.8" width="5.3" height="5.3" fill="#00ffff"/><rect x="319.1" y="339.1" width="5.3" height="5.3" fill="#00ffff"/><rect x="321.9" y="340.0" width="5.3" height="5.3" fill="#00ffff"/><rect x="325.1" y="338.2" width="5.3" height="5.3" fill="#00ffff"/><rect x="327.5" y="337.9" width="5.3" height="5.3" fill="#00ffff"/><rect x="330.7" y="339.7" width="5.3" height="5.3" fill="#00ffff"/><rect x="333.9" y="339.3" width="5.3" height="5.3" fill="#00ffff"/><rect x="336.4" y="339.6" width="5.3" height="5.3" fill="#00ffff"/><rect x="339.7" y="339.8" width="5.3" height="5.3" fill="#00ffff"/><rect x="342.8" y="339.3" width="5.3" height="5.3" fill="#00ffff"/><rect x="346.0" y="340.0" width="5.3" height="5.3" fill="#00ffff"/><rect x="348.8" y="338.7" width="5.3" height="5.3" fill="#00ffff"/><rect x="351.5" y="339.3" width="5.3" height="5.3" fill="#00ffff"/><rect x="354.3" y="338.6" width="5.3" height="5.3" fill="#00ffff"/><rect x="357.7" y="338.3" width="5.3" height="5.3" fill="#00ffff"/><rect x="360.7" y="339.5" width="5.3" height="5.3" fill="#00ffff"/><rect x="363.4" y="339.4" width="5.3" height="5.3" fill="#00ffff"/><rect x="366.3" y="337.5" width="5.3" height="5.3" fill="#00ffff"/><rect x="369.0" y="338.0" width="5.3" height="5.3" fill="#00ffff"/><rect x="371.5" y="339.0" width="5.3" height="5.3" fill="#00ffff"/><rect x="374.0" y="339.5" width="5.3" height="5.3" fill="#00ffff"/><rect x="377.2" y="338.1" width="5.3" height="5.3" fill="#00ffff"/><rect x="379.9" y="338.4" width="5.3" height="5.3" fill="#00ffff"/><rect x="383.2" y="337.3" width="5.3" height="5.3" fill="#00ffff"/><rect x="385.9" y="340.1" width="5.3" height="5.3" fill="#00ffff"/><rect x="388.6" y="338.5" width="5.3" height="5.3" fill="#00ffff"/><rect x="391.5" y="338.7" width="5.3" height="5.3" fill="#00ffff"/><rect x="394.1" y="338.4" width="5.3" height="5.3" fill="#00ffff"/><rect x="396.9" y="338.5" width="5.3" height="5.3" fill="#00ffff"/><rect x="400.2" y="338.1" width="5.3" height="5.3" fill="#00ffff"/><rect x="403.5" y="337.3" width="5.3" height="5.3" fill="#00ffff"/><rect x="406.6" y="337.9" width="5.3" height="5.3" fill="#00ffff"/><rect x="409.6" y="337.3" width="5.3" height="5.3" fill="#00ffff"/><rect x="412.9" y="338.0" width="5.3" height="5.3" fill="#00ffff"/><rect x="416.2" y="336.5" width="5.3" height="5.3" fill="#00ffff"/><rect x="419.1" y="336.4" width="5.3" height="5.3" fill="#00ffff"/><rect x="422.2" y="337.1" width="5.3" height="5.3" fill="#00ffff"/><rect x="424.7" y="337.4" width="5.3" height="5.3" fill="#00ffff"/><rect x="427.8" y="336.5" width="5.3" height="5.3" fill="#00ffff"/><rect x="430.7" y="335.8" width="5.3" height="5.3" fill="#00ffff"/><rect x="433.8" y="336.0" width="5.3" height="5.3" fill="#00ffff"/><rect x="436.8" y="335.6" width="5.3" height="5.3" fill="#00ffff"/><rect x="439.6" y="337.1" width="5.3" height="5.3" fill="#00ffff"/><rect x="442.1" y="336.3" width="5.3" height="5.3" fill="#00ffff"/><rect x="445.3" y="336.3" width="5.3" height="5.3" fill="#00ffff"/><rect x="447.9" y="335.6" width="5.3" height="5.3" fill="#00ffff"/><rect x="450.8" y="334.8" width="5.3" height="5.3" fill="#00ffff"/><rect x="453.5" y="335.8" width="5.3" height="5.3" fill="#00ffff"/><rect x="456.3" y="336.0" width="5.3" height="5.3" fill="#00ffff"/><rect x="459.4" y="335.1" width="5.3" height="5.3" fill="#00ffff"/><rect x="462.7" y="334.4" width="5.3" height="5.3" fill="#00ffff"/><rect x="465.4" y="335.0" width="5.3" height="5.3" fill="#00ffff"/><rect x="468.4" y="333.8" width="5.3" height="5.3" fill="#00ffff"/><rect x="471.1" y="334.4" width="5.3" height="5.3" fill="#00ffff"/><rect x="474.1" y="333.2" width="5.3" height="5.3" fill="#00ffff"/><rect x="476.9" y="332.8" width="5.3" height="5.3" fill="#00ffff"/><rect x="479.5" y="333.6" width="5.3" height="5.3" fill="#00ffff"/><rect x="482.1" y="333.2" width="5.3" height="5.3" fill="#00ffff"/><rect x="484.8" y="334.1" width="5.3" height="5.3" fill="#00ffff"/><rect x="488.0" y="332.4" width="5.3" height="5.3" fill="#00ffff"/><rect x="490.9" y="332.4" width="5.3" height="5.3" fill="#00ffff"/><rect x="493.6" y="331.4" width="5.3" height="5.3" fill="#00ffff"/><rect x="496.8" y="330.7" width="5.3" height="5.3" fill="#00ffff"/><rect x="500.2" y="330.5" width="5.3" height="5.3" fill="#00ffff"/><rect x="503.0" y="331.7" width="5.3" height="5.3" fill="#00ffff"/><rect x="505.6" y="330.4" width="5.3" height="5.3" fill="#00ffff"/><rect x="508.2" y="331.7" width="5.3" height="5.3" fill="#00ffff"/><rect x="510.8" y="331.6" width="5.3" height="5.3" fill="#00ffff"/><rect x="513.5" y="330.3" width="5.3" height="5.3" fill="#00ffff"/><rect x="516.1" y="331.3" width="5.3" height="5.3" fill="#00ffff"/><rect x="518.8" y="330.2" width="5.3" height="5.3" fill="#00ffff"/><rect x="521.4" y="330.5" width="5.3" height="5.3" fill="#00ffff"/><rect x="524.4" y="329.4" width="5.3" height="5.3" fill="#00ffff"/><rect x="527.6" y="329.8" width="5.3" height="5.3" fill="#00ffff"/><rect x="530.8" y="328.4" width="5.3" height="5.3" fill="#00ffff"/><rect x="533.6" y="329.1" width="5.3" height="5.3" fill="#00ffff"/><rect x="536.4" y="328.1" width="5.3" height="5.3" fill="#00ffff"/><rect x="539.3" y="328.0" width="5.3" height="5.3" fill="#00ffff"/><rect x="542.1" y="328.2" width="5.3" height="5.3" fill="#00ffff"/><rect x="544.9" y="327.7" width="5.3" height="5.3" fill="#00ffff"/><rect x="547.4" y="327.3" width="5.3" height="5.3" fill="#00ffff"/><rect x="550.1" y="327.5" width="5.3" height="5.3" fill="#00ffff"/><rect x="553.4" y="327.2" width="5.3" height="5.3" fill="#00ffff"/><rect x="556.0" y="325.7" width="5.3" height="5.3" fill="#00ffff"/><rect x="558.9" y="326.5" width="5.3" height="5.3" fill="#00ffff"/><rect x="561.9" y="326.2" width="5.3" height="5.3" fill="#00ffff"/><rect x="565.1" y="325.1" width="5.3" height="5.3" fill="#00ffff"/><rect x="567.8" y="325.4" width="5.3" height="5.3" fill="#00ffff"/><rect x="570.5" y="324.1" width="5.3" height="5.3" fill="#00ffff"/><rect x="573.2" y="325.4" width="5.3" height="5.3" fill="#00ffff"/><rect x="576.0" y="324.2" width="5.3" height="5.3" fill="#00ffff"/><rect x="578.8" y="323.9" width="5.3" height="5.3" fill="#00ffff"/><rect x="582.1" y="324.3" width="5.3" height="5.3" fill="#00ffff"/><rect x="585.3" y="323.2" width="5.3" height="5.3" fill="#00ffff"/><rect x="588.5" y="323.3" width="5.3" height="5.3" fill="#00ffff"/><rect x="591.0" y="322.1" width="5.3" height="5.3" fill="#00ffff"/><rect x="593.5" y="322.1" width="5.3" height="5.3" fill="#00ffff"/><rect x="596.6" y="321.3" width="5.3" height="5.3" fill="#00ffff"/><rect x="599.8" y="321.7" width="5.3" height="5.3" fill="#00ffff"/><rect x="602.7" y="322.1" width="5.3" height="5.3" fill="#00ffff"/><rect x="605.7" y="321.3" width="5.3" height="5.3" fill="#00ffff"/><rect x="608.2" y="321.4" width="5.3" height="5.3" fill="#00ffff"/><rect x="611.0" y="320.1" width="5.3" height="5.3" fill="#00ffff"/><rect x="614.2" y="319.9" width="5.3" height="5.3" fill="#00ffff"/><rect x="617.4" y="319.8" width="5.3" height="5.3" fill="#00ffff"/><rect x="620.6" y="320.0" width="5.3" height="5.3" fill="#00ffff"/><rect x="623.9" y="319.6" width="5.3" height="5.3" fill="#00ffff"/><rect x="626.6" y="319.1" width="5.3" height="5.3" fill="#00ffff"/><rect x="629.2" y="319.2" width="5.3" height="5.3" fill="#00ffff"/><rect x="631.8" y="318.5" width="5.3" height="5.3" fill="#00ffff"/><rect x="634.7" y="318.3" width="5.3" height="5.3" fill="#00ffff"/><rect x="637.8" y="318.7" width="5.3" height="5.3" fill="#00ffff"/><rect x="641.0" y="317.4" width="5.3" height="5.3" fill="#00ffff"/><rect x="644.1" y="317.5" width="5.3" height="5.3" fill="#00ffff"/><rect x="647.2" y="318.0" width="5.3" height="5.3" fill="#00ffff"/><rect x="650.3" y="317.0" width="5.3" height="5.3" fill="#00ffff"/><rect x="653.2" y="317.1" width="5.3" height="5.3" fill="#00ffff"/><rect x="656.1" y="316.2" width="5.3" height="5.3" fill="#00ffff"/><rect x="658.6" y="317.3" width="5.3" height="5.3" fill="#00ffff"/><rect x="661.8" y="314.9" width="5.3" height="5.3" fill="#00ffff"/></g>
<g><circle cx="114.3" cy="251.0" r="2.5" fill="#000000"/><circle cx="119.0" cy="256.9" r="2.5" fill="#000000"/><circle cx="123.4" cy="254.0" r="2.5" fill="#000000"/><circle cx="127.9" cy="271.6" r="2.5" fill="#000000"/><circle cx="132.2" cy="282.9" r="2.5" fill="#000000"/><circle cx="136.9" cy="285.9" r="2.5" fill="#000000"/><circle cx="141.4" cy="297.5" r="2.5" fill="#000000"/><circle cx="145.8" cy="301.1" r="2.5" fill="#000000"/><circle cx="150.1" cy="294.0" r="2.5" fill="#000000"/><circle cx="154.3" cy="302.4" r="2.5" fill="#000000"/><circle cx="158.4" cy="301.7" r="2.5" fill="#000000"/><circle cx="162.7" cy="305.6" r="2.5" fill="#000000"/><circle cx="167.0" cy="308.0" r="2.5" fill="#000000"/><circle cx="171.3" cy="311.0" r="2.5" fill="#000000"/><circle cx="175.6" cy="314.5" r="2.5" fill="#000000"/><circle cx="179.9" cy="317.0" r="2.5" fill="#000000"/><circle cx="184.2" cy="318.5" r="2.5" fill="#000000"/><circle cx="188.5" cy="320.5" r="2.5" fill="#000000"/><circle cx="192.8" cy="322.5" r="2.5" fill="#000000"/><circle cx="197.1" cy="324.5" r="2.5" fill="#000000"/><circle cx="201.4" cy="326.0" r="2.5" fill="#000000"/><circle cx="205.7" cy="327.5" r="2.5" fill="#000000"/><circle cx="209.4" cy="328.6" r="2.5" fill="#000000"/><circle cx="213.1" cy="329.8" r="2.5" fill="#000000"/><circle cx="216.4" cy="332.0" r="2.5" fill="#000000"/><circle cx="219.5" cy="332.3" r="2.5" fill="#000000"/><circle cx="222.7" cy="332.9" r="2.5" fill="#000000"/><circle cx="226.4" cy="333.3" r="2.5" fill="#000000"/><circle cx="230.1" cy="334.9" r="2.5" fill="#000000"/><circle cx="233.2" cy="335.4" r="2.5" fill="#000000"/><circle cx="236.3" cy="335.7" r="2.5" fill="#000000"/><circle cx="239.8" cy="335.9" r="2.5" fill="#000000"/><circle cx="243.4" cy="336.6" r="2.5" fill="#000000"/><circle cx="246.8" cy="337.7" r="2.5" fill="#000000"/><circle cx="250.0" cy="338.1" r="2.5" fill="#000000"/><circle cx="253.6" cy="338.5" r="2.5" fill="#000000"/><circle cx="256.6" cy="338.7" r="2.5" fill="#000000"/><circle cx="259.9" cy="338.3" r="2.5" fill="#000000"/><circle cx="263.4" cy="339.5" r="2.5" fill="#000000"/><circle cx="267.4" cy="339.4" r="2.5" fill="#000000"/><circle cx="271.0" cy="340.2" r="2.5" fill="#000000"/><circle cx="275.0" cy="340.7" r="2.5" fill="#000000"/><circle cx="278.4" cy="340.5" r="2.5" fill="#000000"/><circle cx="281.7" cy="340.6" r="2.5" fill="#000000"/><circle cx="284.9" cy="341.7" r="2.5" fill="#000000"/><circle cx="288.9" cy="341.7" r="2.5" fill="#000000"/><circle cx="292.6" cy="341.5" r="2.5" fill="#000000"/><circle cx="295.9" cy="340.7" r="2.5" fill="#000000"/><circle cx="298.9" cy="342.0" r="2.5" fill="#000000"/><circle cx="302.5" cy="342.5" r="2.5" fill="#000000"/><circle cx="305.2" cy="342.7" r="2.5" fill="#000000"/><circle cx="307.7" cy="342.1" r="2.5" fill="#000000"/><circle cx="310.1" cy="342.2" r="2.5" fill="#000000"/><circle cx="312.9" cy="342.4" r="2.5" fill="#000000"/><circle cx="315.8" cy="342.9" r="2.5" fill="#000000"/><circle cx="318.2" cy="342.2" r="2.5" fill="#000000"/><circle cx="320.4" cy="342.7" r="2.5" fill="#000000"/><circle cx="322.9" cy="342.4" r="2.5" fill="#000000"/><circle cx="325.4" cy="342.9" r="2.5" fill="#000000"/><circle cx="328.2" cy="342.3" r="2.5" fill="#000000"/><circle cx="330.5" cy="343.1" r="2.5" fill="#000000"/><circle cx="333.4" cy="342.8" r="2.5" fill="#000000"/><circle cx="336.2" cy="342.9" r="2.5" fill="#000000"/><circle cx="338.8" cy="343.2" r="2.5" fill="#000000"/><circle cx="341.1" cy="343.5" r="2.5" fill="#000000"/><circle cx="344.1" cy="342.3" r="2.5" fill="#000000"/><circle cx="346.6" cy="343.4" r="2.5" fill="#000000"/><circle cx="349.4" cy="343.1" r="2.5" fill="#000000"/><circle cx="351.8" cy="342.8" r="2.5" fill="#000000"/><circle cx="354.2" cy="343.4" r="2.5" fill="#000000"/><circle cx="357.0" cy="342.8" r="2.5" fill="#000000"/><circle cx="359.4" cy="343.2" r="2.5" fill="#000000"/><circle cx="362.4" cy="342.4" r="2.5" fill="#000000"/><circle cx="365.0" cy="342.2" r="2.5" fill="#000000"/><circle cx="367.3" cy="343.0" r="2.5" fill="#000000"/><circle cx="369.7" cy="343.3" r="2.5" fill="#000000"/><circle cx="372.2" cy="342.6" r="2.5" fill="#000000"/><circle cx="375.0" cy="342.7" r="2.5" fill="#000000"/><circle cx="377.9" cy="342.0" r="2.5" fill="#000000"/><circle cx="380.2" cy="341.6" r="2.5" fill="#000000"/><circle cx="382.8" cy="342.0" r="2.5" fill="#000000"/><circle cx="385.1" cy="342.6" r="2.5" fill="#000000"/><circle cx="388.1" cy="341.1" r="2.5" fill="#000000"/><circle cx="390.4" cy="341.6" r="2.5" fill="#000000"/><circle cx="392.7" cy="341.0" r="2.5" fill="#000000"/><circle cx="394.9" cy="341.6" r="2.5" fill="#000000"/><circle cx="397.5" cy="341.8" r="2.5" fill="#000000"/><circle cx="400.4" cy="340.9" r="2.5" fill="#000000"/><circle cx="403.3" cy="341.1" r="2.5" fill="#000000"/><circle cx="406.0" cy="341.7" r="2.5" fill="#000000"/><circle cx="409.0" cy="341.0" r="2.5" fill="#000000"/><circle cx="412.0" cy="340.4" r="2.5" fill="#000000"/><circle cx="414.4" cy="340.3" r="2.5" fill="#000000"/><circle cx="416.8" cy="339.9" r="2.5" fill="#000000"/><circle cx="419.7" cy="340.8" r="2.5" fill="#000000"/><circle cx="422.5" cy="340.1" r="2.5" fill="#000000"/><circle cx="424.8" cy="340.7" r="2.5" fill="#000000"/><circle cx="427.5" cy="340.5" r="2.5" fill="#000000"/><circle cx="430.0" cy="339.8" r="2.5" fill="#000000"/><circle cx="432.5" cy="339.7" r="2.5" fill="#000000"/><circle cx="435.0" cy="340.1" r="2.5" fill="#000000"/><circle cx="437.3" cy="339.7" r="2.5" fill="#000000"/><circle cx="439.5" cy="339.6" r="2.5" fill="#000000"/><circle cx="441.9" cy="338.8" r="2.5" fill="#000000"/><circle cx="444.4" cy="339.6" r="2.5" fill="#000000"/><circle cx="447.4" cy="338.8" r="2.5" fill="#000000"/><circle cx="449.7" cy="338.1" r="2.5" fill="#000000"/><circle cx="452.7" cy="338.6" r="2.5" fill="#000000"/><circle cx="455.0" cy="338.9" r="2.5" fill="#000000"/><circle cx="457.5" cy="339.3" r="2.5" fill="#000000"/><circle cx="460.4" cy="338.2" r="2.5" fill="#000000"/><circle cx="463.2" cy="337.7" r="2.5" fill="#000000"/><circle cx="465.8" cy="338.8" r="2.5" fill="#000000"/><circle cx="468.0" cy="337.9" r="2.5" fill="#000000"/><circle cx="470.6" cy="337.6" r="2.5" fill="#000000"/><circle cx="473.1" cy="337.1" r="2.5" fill="#000000"/><circle cx="476.0" cy="336.9" r="2.5" fill="#000000"/><circle cx="478.4" cy="337.7" r="2.5" fill="#000000"/><circle cx="480.9" cy="336.8" r="2.5" fill="#000000"/><circle cx="483.8" cy="336.5" r="2.5" fill="#000000"/><circle cx="486.0" cy="336.4" r="2.5" fill="#000000"/><circle cx="488.5" cy="336.9" r="2.5" fill="#000000"/><circle cx="491.4" cy="335.9" r="2.5" fill="#000000"/><circle cx="494.2" cy="336.2" r="2.5" fill="#000000"/><circle cx="496.4" cy="335.8" r="2.5" fill="#000000"/><circle cx="498.7" cy="335.7" r="2.5" fill="#000000"/><circle cx="500.9" cy="335.1" r="2.5" fill="#000000"/><circle cx="503.9" cy="335.4" r="2.5" fill="#000000"/><circle cx="506.3" cy="335.6" r="2.5" fill="#000000"/><circle cx="509.1" cy="334.7" r="2.5" fill="#000000"/><circle cx="512.0" cy="334.1" r="2.5" fill="#000000"/><circle cx="514.5" cy="333.8" r="2.5" fill="#000000"/><circle cx="516.9" cy="334.1" r="2.5" fill="#000000"/><circle cx="519.8" cy="333.7" r="2.5" fill="#000000"/><circle cx="522.5" cy="333.5" r="2.5" fill="#000000"/><circle cx="524.9" cy="333.4" r="2.5" fill="#000000"/><circle cx="527.7" cy="332.6" r="2.5" fill="#000000"/><circle cx="530.2" cy="333.2" r="2.5" fill="#000000"/><circle cx="532.6" cy="332.7" r="2.5" fill="#000000"/><circle cx="534.8" cy="332.4" r="2.5" fill="#000000"/><circle cx="537.6" cy="332.3" r="2.5" fill="#000000"/><circle cx="540.5" cy="332.2" r="2.5" fill="#000000"/><circle cx="543.2" cy="331.7" r="2.5" fill="#000000"/><circle cx="546.2" cy="331.0" r="2.5" fill="#000000"/><circle cx="548.4" cy="331.6" r="2.5" fill="#000000"/><circle cx="550.8" cy="330.7" r="2.5" fill="#000000"/><circle cx="553.4" cy="330.4" r="2.5" fill="#000000"/><circle cx="556.3" cy="329.8" r="2.5" fill="#000000"/><circle cx="559.3" cy="330.1" r="2.5" fill="#000000"/><circle cx="561.8" cy="329.4" r="2.5" fill="#000000"/><circle cx="564.2" cy="329.4" r="2.5" fill="#000000"/><circle cx="566.7" cy="329.5" r="2.5" fill="#000000"/><circle cx="569.3" cy="329.1" r="2.5" fill="#000000"/><circle cx="572.3" cy="329.2" r="2.5" fill="#000000"/><circle cx="574.6" cy="328.7" r="2.5" fill="#000000"/><circle cx="577.5" cy="328.1" r="2.5" fill="#000000"/><circle cx="580.3" cy="327.9" r="2.5" fill="#000000"/><circle cx="583.1" cy="327.6" r="2.5" fill="#000000"/><circle cx="585.9" cy="327.7" r="2.5" fill="#000000"/><circle cx="588.6" cy="327.2" r="2.5" fill="#000000"/><circle cx="591.1" cy="326.9" r="2.5" fill="#000000"/><circle cx="593.5" cy="327.1" r="2.5" fill="#000000"/><circle cx="596.0" cy="326.6" r="2.5" fill="#000000"/><circle cx="598.8" cy="326.1" r="2.5" fill="#000000"/><circle cx="601.1" cy="325.6" r="2.5" fill="#000000"/><circle cx="603.5" cy="326.1" r="2.5" fill="#000000"/><circle cx="606.3" cy="325.7" r="2.5" fill="#000000"/><circle cx="608.7" cy="325.5" r="2.5" fill="#000000"/><circle cx="610.9" cy="325.1" r="2.5" fill="#000000"/><circle cx="613.2" cy="324.8" r="2.5" fill="#000000"/><circle cx="615.8" cy="324.8" r="2.5" fill="#000000"/><circle cx="618.3" cy="324.7" r="2.5" fill="#000000"/><circle cx="621.3" cy="324.3" r="2.5" fill="#000000"/><circle cx="624.1" cy="324.1" r="2.5" fill="#000000"/><circle cx="627.1" cy="323.7" r="2.5" fill="#000000"/><circle cx="629.5" cy="323.8" r="2.5" fill="#000000"/><circle cx="631.8" cy="323.6" r="2.5" fill="#000000"/><circle cx="634.1" cy="323.1" r="2.5" fill="#000000"/><circle cx="636.7" cy="323.4" r="2.5" fill="#000000"/><circle cx="639.5" cy="323.2" r="2.5" fill="#000000"/><circle cx="642.0" cy="323.0" r="2.5" fill="#000000"/></g>
<path d="M111.6 240.6 L115.6 246.9 L119.6 253.5 L123.6 260.3 L127.7 266.9 L131.7 273.1 L135.7 278.7 L139.7 283.7 L143.7 288.2 L147.7 292.1 L151.8 295.7 L155.8 298.9 L159.8 301.9 L163.8 304.9 L167.8 307.7 L171.8 310.6 L175.9 313.3 L179.9 315.8 L183.9 318.0 L187.9 320.1 L191.9 322.0 L195.9 323.8 L199.9 325.5 L204.0 327.1 L208.0 328.6 L212.0 329.9 L216.0 331.2 L220.0 332.3 L224.0 333.3 L228.1 334.3 L232.1 335.2 L236.1 335.9 L240.1 336.6 L244.1 337.2 L248.1 337.8 L252.2 338.3 L256.2 338.7 L260.2 339.1 L264.2 339.5 L268.2 339.9 L272.2 340.3 L276.2 340.6 L280.3 340.9 L284.3 341.2 L288.3 341.5 L292.3 341.7 L296.3 341.9 L300.3 342.1 L304.4 342.3 L308.4 342.4 L312.4 342.5 L316.4 342.6 L320.4 342.7 L324.4 342.8 L328.5 342.9 L332.5 342.9 L336.5 343.0 L340.5 343.0 L344.5 343.0 L348.5 342.9 L352.5 342.9 L356.6 342.8 L360.6 342.7 L364.6 342.6 L368.6 342.5 L372.6 342.4 L376.6 342.3 L380.7 342.1 L384.7 342.0 L388.7 341.8 L392.7 341.7 L396.7 341.5 L400.7 341.4 L404.8 341.2 L408.8 341.0 L412.8 340.8 L416.8 340.7 L420.8 340.5 L424.8 340.3 L428.9 340.1 L432.9 339.9 L436.9 339.7 L440.9 339.5 L444.9 339.2 L448.9 339.0 L452.9 338.8 L457.0 338.6 L461.0 338.3 L465.0 338.1 L469.0 337.8 L473.0 337.5 L477.0 337.2 L481.1 336.9 L485.1 336.6 L489.1 336.3 L493.1 336.0 L497.1 335.7 L501.1 335.3 L505.2 335.0 L509.2 334.7 L513.2 334.4 L517.2 334.0 L521.2 333.7 L525.2 333.4 L529.2 333.1 L533.3 332.7 L537.3 332.4 L541.3 332.1 L545.3 331.8 L549.3 331.4 L553.3 331.1 L557.4 330.8 L561.4 330.5 L565.4 330.2 L569.4 329.9 L573.4 329.5 L577.4 329.2 L581.5 328.9 L585.5 328.6 L589.5 328.3 L593.5 328.0 L597.5 327.7 L601.5 327.4 L605.5 327.1 L609.6 326.8 L613.6 326.5 L617.6 326.2 L621.6 325.9 L625.6 325.6 L629.6 325.3 L633.7 325.0 L637.7 324.7 L641.7 324.4 L645.7 324.1 L649.7 323.7 L653.7 323.4 L657.8 323.1 L661.8 322.7 L665.8 322.4 L669.8 322.0" stroke="#000" stroke-width="1.7" fill="none"/>
<g font-family="Liberation Sans, sans-serif" font-weight="bold" font-size="21.9" fill="#000" text-rendering="geometricPrecision">
<text transform="translate(98.5 445.3) scale(1 1.055)" text-anchor="end">2.2</text>
<text transform="translate(98.5 386.3) scale(1 1.055)" text-anchor="end">2.4</text>
<text transform="translate(98.5 327.2) scale(1 1.055)" text-anchor="end">2.6</text>
<text transform="translate(98.5 268.2) scale(1 1.055)" text-anchor="end">2.8</text>
<text transform="translate(98.5 209.1) scale(1 1.055)" text-anchor="end">3</text>
<text transform="translate(98.5 150.1) scale(1 1.055)" text-anchor="end">3.2</text>
<text transform="translate(98.5 91.0) scale(1 1.055)" text-anchor="end">3.4</text>
<text transform="translate(98.5 32.0) scale(1 1.055)" text-anchor="end">3.6</text>
<text transform="translate(114.4 467.2) scale(1 1.055)" text-anchor="middle">0.2</text>
<text transform="translate(215.9 467.2) scale(1 1.055)" text-anchor="middle">0.4</text>
<text transform="translate(317.4 467.2) scale(1 1.055)" text-anchor="middle">0.6</text>
<text transform="translate(418.9 467.2) scale(1 1.055)" text-anchor="middle">0.8</text>
<text transform="translate(520.4 467.2) scale(1 1.055)" text-anchor="middle">1</text>
<text transform="translate(621.9 467.2) scale(1 1.055)" text-anchor="middle">1.2</text>
<text x="391" y="499.4" text-anchor="middle">shower age s</text>
<g transform="translate(0 335.5) rotate(-90)"><text transform="translate(0 29.5) scale(1.08 0.96)" font-weight="normal">α</text><text x="12.9" y="35.7" font-size="17.6">eff</text><text transform="translate(60.6 28.9) scale(1 1.05)">(MeV g<tspan dy="-10.1" font-size="17.2">-1</tspan><tspan dy="10.1" dx="-0.3"> cm</tspan><tspan dy="-10.1" dx="1.0" font-size="17.2">-2</tspan><tspan dy="10.1" dx="1.5">)</tspan></text></g>
<g text-anchor="end" fill="#ff0000" stroke="#ff0000" stroke-width="0.3"><text transform="translate(527.9 54.6) scale(1 1.045)" font-size="22">Fe, 10</text><text transform="translate(547.3 43.2) scale(1.1 1)" font-size="16.3">17</text><text transform="translate(573.3 54.6) scale(1 1.045)" font-size="22">eV</text></g>
<path d="M612.6 45.0H617.9M615.2 42.4V47.6" stroke="#ff0000" stroke-width="1.1" fill="none"/>
<g text-anchor="end" fill="#00ff00" stroke="#00ff00" stroke-width="0.3"><text transform="translate(527.9 76.1) scale(1 1.045)" font-size="22">10</text><text transform="translate(547.3 64.7) scale(1.1 1)" font-size="16.3">18</text><text transform="translate(573.3 76.1) scale(1 1.045)" font-size="22">eV</text></g>
<path d="M612.7 64.4L617.7 69.4M612.7 69.4L617.7 64.4" stroke="#00ff00" stroke-width="1.2" fill="none"/>
<g text-anchor="end" fill="#0000ff" stroke="#0000ff" stroke-width="0.3"><text transform="translate(527.9 97.6) scale(1 1.045)" font-size="22">10</text><text transform="translate(547.3 86.2) scale(1.1 1)" font-size="16.3">19</text><text transform="translate(573.3 97.6) scale(1 1.045)" font-size="22">eV</text></g>
<path d="M612.6 88.7H617.9M615.2 86.1V91.4" stroke="#0000ff" stroke-width="1.1" fill="none"/><path d="M612.7 86.2L617.7 91.2M612.7 91.2L617.7 86.2" stroke="#0000ff" stroke-width="1.2" fill="none"/>
<g text-anchor="end" fill="#ff00ff" stroke="#ff00ff" stroke-width="0.3"><text transform="translate(527.9 119.1) scale(1 1.045)" font-size="22">p, 10</text><text transform="translate(547.3 107.7) scale(1.1 1)" font-size="16.3">17</text><text transform="translate(573.3 119.1) scale(1 1.045)" font-size="22">eV</text></g>
<rect x="612.8" y="108.2" width="4.9" height="4.9" stroke="#ff00ff" stroke-width="1" fill="none"/><rect x="614.6" y="110.0" width="1.2" height="1.2" fill="#ff00ff"/>
<g text-anchor="end" fill="#00ffff" stroke="#00ffff" stroke-width="0.3"><text transform="translate(527.9 140.6) scale(1 1.045)" font-size="22">10</text><text transform="translate(547.3 129.2) scale(1.1 1)" font-size="16.3">18</text><text transform="translate(573.3 140.6) scale(1 1.045)" font-size="22">eV</text></g>
<rect x="612.6" y="129.8" width="5.3" height="5.3" fill="#00ffff"/>
<g text-anchor="end" fill="#000000"><text transform="translate(527.9 162.1) scale(1 1.045)" font-size="22">10</text><text transform="translate(547.3 150.7) scale(1.1 1)" font-size="16.3">19</text><text transform="translate(573.3 162.1) scale(1 1.045)" font-size="22">eV</text></g>
<circle cx="615.2" cy="154.4" r="2.5" fill="#000000"/>
<text transform="translate(573.3 183.6) scale(1 1.045)" text-anchor="end" font-size="22">fit</text>
<path d="M586.5 176.2H643.5" stroke="#000" stroke-width="2"/>
</g>
</svg>
</body></html>
